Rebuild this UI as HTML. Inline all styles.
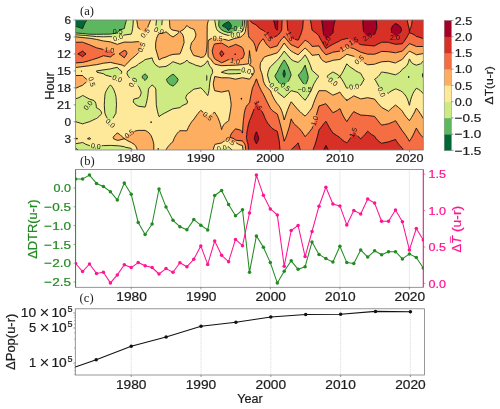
<!DOCTYPE html>
<html><head><meta charset="utf-8"><title>chart</title>
<style>html,body{margin:0;padding:0;background:#fff}body{width:500px;height:409px;overflow:hidden}svg{opacity:0.9999;will-change:transform}svg text{font-family:"Liberation Sans",sans-serif}svg text.sf{font-family:"Liberation Serif",serif}</style></head>
<body>
<svg width="500" height="409" viewBox="0 0 500 409" style="display:block">
<rect width="500" height="409" fill="#fff"/>
<clipPath id="ca"><rect x="75.6" y="20.0" width="347.7" height="130.0"/></clipPath>
<g clip-path="url(#ca)"><path d="M75.6,20.0 L82.6,20.0 L86.7,20.0 L85.9,21.4 L85.1,22.8 L84.4,24.2 L83.8,25.7 L83.2,27.1 L82.7,28.5 L82.6,28.6 L82.1,28.5 L78.4,27.1 L75.6,26.5 L75.6,25.7 L75.6,24.2 L75.6,22.8 L75.6,21.4 L75.6,20.0ZM226.1,22.8 L228.6,21.6 L229.8,22.8 L230.7,24.2 L231.4,25.7 L231.1,27.1 L230.3,28.5 L229.4,29.9 L228.6,30.4 L227.9,29.9 L226.6,28.5 L224.9,27.1 L222.2,25.7 L223.8,24.2 L226.1,22.8ZM283.9,70.9 L284.2,69.9 L284.5,70.9 L284.9,72.3 L285.3,73.7 L285.0,75.1 L284.6,76.5 L284.2,77.4 L283.7,76.5 L283.3,75.1 L283.0,73.7 L283.4,72.3 L283.9,70.9Z" fill="#006837" stroke="#006837" stroke-width="0.4" fill-rule="evenodd"/><path d="M86.7,20.0 L89.5,20.0 L96.5,20.0 L103.4,20.0 L110.4,20.0 L117.3,20.0 L124.3,20.0 L126.6,20.0 L126.1,21.4 L125.7,22.8 L125.3,24.2 L124.9,25.7 L124.6,27.1 L124.3,28.5 L124.3,28.5 L119.9,29.9 L118.3,31.3 L117.5,32.7 L117.3,32.9 L110.4,34.1 L110.4,34.1 L103.4,34.2 L96.5,34.3 L89.5,34.2 L89.0,34.1 L82.6,33.5 L75.6,32.9 L75.6,32.7 L75.6,31.3 L75.6,29.9 L75.6,28.5 L75.6,27.1 L75.6,26.5 L78.4,27.1 L82.1,28.5 L82.6,28.6 L82.7,28.5 L83.2,27.1 L83.8,25.7 L84.4,24.2 L85.1,22.8 L85.9,21.4 L86.7,20.0ZM219.0,20.0 L221.6,20.0 L228.6,20.0 L235.5,20.0 L242.5,20.0 L242.8,20.0 L242.8,21.4 L242.7,22.8 L242.6,24.2 L242.5,25.7 L242.5,25.7 L239.2,27.1 L237.5,28.5 L236.5,29.9 L235.8,31.3 L235.5,31.4 L228.6,32.6 L224.2,31.3 L221.6,29.9 L221.6,29.9 L220.4,28.5 L219.4,27.1 L218.7,25.7 L218.8,24.2 L218.8,22.8 L218.9,21.4 L219.0,20.0ZM228.6,21.6 L226.1,22.8 L223.8,24.2 L222.2,25.7 L224.9,27.1 L226.6,28.5 L227.9,29.9 L228.6,30.4 L229.4,29.9 L230.3,28.5 L231.1,27.1 L231.4,25.7 L230.7,24.2 L229.8,22.8 L228.6,21.6ZM283.5,61.0 L284.2,59.9 L285.0,61.0 L285.9,62.4 L286.7,63.8 L287.5,65.2 L288.2,66.6 L288.8,68.0 L289.3,69.5 L289.8,70.9 L290.3,72.3 L290.8,73.7 L291.1,75.1 L290.5,76.5 L290.0,77.9 L289.3,79.3 L288.6,80.8 L287.6,82.2 L286.5,83.6 L285.2,85.0 L284.2,86.0 L282.8,85.0 L280.7,83.6 L279.0,82.2 L277.5,80.8 L277.3,80.4 L276.6,79.3 L275.8,77.9 L275.0,76.5 L275.3,75.1 L276.2,73.7 L277.1,72.3 L277.3,72.1 L277.8,70.9 L278.5,69.5 L279.3,68.0 L280.0,66.6 L280.8,65.2 L281.7,63.8 L282.5,62.4 L283.5,61.0ZM284.2,69.9 L283.9,70.9 L283.4,72.3 L283.0,73.7 L283.3,75.1 L283.7,76.5 L284.2,77.4 L284.6,76.5 L285.0,75.1 L285.3,73.7 L284.9,72.3 L284.5,70.9 L284.2,69.9ZM305.1,65.2 L305.1,65.2 L305.1,65.2 L305.5,66.6 L305.9,68.0 L306.3,69.5 L306.7,70.9 L307.1,72.3 L307.5,73.7 L307.9,75.1 L308.2,76.5 L308.1,77.9 L307.9,79.3 L307.4,80.8 L306.8,82.2 L306.2,83.6 L305.5,85.0 L305.1,85.8 L304.5,85.0 L303.5,83.6 L302.5,82.2 L301.5,80.8 L300.6,79.3 L299.7,77.9 L298.8,76.5 L298.4,75.1 L299.7,73.7 L300.8,72.3 L301.9,70.9 L302.8,69.5 L303.6,68.0 L304.4,66.6 L305.1,65.2ZM143.5,75.1 L145.1,73.9 L146.5,75.1 L147.5,76.5 L147.2,77.9 L146.2,79.3 L145.1,80.5 L143.8,79.3 L142.5,77.9 L142.0,76.5 L143.5,75.1ZM171.5,75.1 L173.0,74.2 L174.2,75.1 L175.8,76.5 L177.0,77.9 L178.0,79.3 L177.7,80.8 L176.9,82.2 L175.9,83.6 L174.3,85.0 L173.0,86.1 L170.7,85.0 L168.7,83.6 L167.6,82.2 L166.9,80.8 L166.5,79.3 L167.9,77.9 L169.5,76.5 L171.5,75.1ZM75.6,148.6 L75.6,148.1 L76.5,148.6 L77.9,150.0 L75.6,150.0 L75.6,148.6Z" fill="#5db75f" stroke="#5db75f" stroke-width="0.4" fill-rule="evenodd"/><path d="M126.6,20.0 L131.2,20.0 L133.3,20.0 L133.2,21.4 L133.2,22.8 L133.1,24.2 L132.9,25.7 L132.8,27.1 L132.6,28.5 L132.4,29.9 L132.1,31.3 L131.7,32.7 L131.2,34.1 L131.2,34.1 L124.3,35.0 L123.3,35.5 L119.6,37.0 L117.3,37.7 L113.4,37.0 L110.4,36.6 L103.4,36.8 L96.5,36.6 L89.5,35.9 L85.5,35.5 L82.6,35.3 L75.6,34.8 L75.6,34.1 L75.6,32.9 L82.6,33.5 L89.0,34.1 L89.5,34.2 L96.5,34.3 L103.4,34.2 L110.4,34.1 L110.4,34.1 L117.3,32.9 L117.5,32.7 L118.3,31.3 L119.9,29.9 L124.3,28.5 L124.3,28.5 L124.6,27.1 L124.9,25.7 L125.3,24.2 L125.7,22.8 L126.1,21.4 L126.6,20.0ZM156.5,20.0 L159.0,20.0 L162.2,20.0 L162.1,21.4 L162.0,22.8 L161.8,24.2 L161.7,25.7 L161.6,27.1 L161.6,28.5 L160.2,29.9 L159.0,30.5 L157.4,29.9 L155.9,28.5 L155.9,27.1 L155.9,25.7 L156.1,24.2 L156.2,22.8 L156.3,21.4 L156.5,20.0ZM214.7,20.0 L214.7,20.0 L219.0,20.0 L218.9,21.4 L218.8,22.8 L218.8,24.2 L218.7,25.7 L219.4,27.1 L220.4,28.5 L221.6,29.9 L221.6,29.9 L224.2,31.3 L228.6,32.6 L235.5,31.4 L235.8,31.3 L236.5,29.9 L237.5,28.5 L239.2,27.1 L242.5,25.7 L242.5,25.7 L242.6,24.2 L242.7,22.8 L242.8,21.4 L242.8,20.0 L244.5,20.0 L244.4,21.4 L244.4,22.8 L244.4,24.2 L244.3,25.7 L244.0,27.1 L243.6,28.5 L243.1,29.9 L242.5,31.3 L242.5,31.3 L240.3,32.7 L237.1,34.1 L235.5,34.8 L228.6,35.5 L228.6,35.5 L228.6,35.5 L223.7,34.1 L221.6,33.2 L220.8,32.7 L218.4,31.3 L217.1,29.9 L216.5,28.5 L216.0,27.1 L215.6,25.7 L215.5,24.2 L215.2,22.8 L215.0,21.4 L214.7,20.0 L214.7,20.0ZM284.2,51.1 L284.2,51.1 L284.2,51.1 L285.4,52.5 L286.5,53.9 L287.7,55.3 L288.9,56.7 L290.2,58.2 L291.2,59.4 L291.5,59.6 L293.8,61.0 L298.1,62.4 L299.8,61.0 L301.2,59.6 L302.5,58.2 L303.7,56.7 L304.7,55.3 L305.1,54.9 L305.4,55.3 L306.3,56.7 L307.1,58.2 L307.8,59.6 L308.5,61.0 L309.1,62.4 L309.7,63.8 L310.3,65.2 L310.7,66.6 L311.2,68.0 L311.7,69.5 L312.0,70.4 L312.7,70.9 L314.2,72.3 L315.8,73.7 L317.4,75.1 L319.0,76.5 L319.0,76.5 L319.0,76.5 L317.4,77.9 L316.7,79.3 L315.7,80.8 L314.9,82.2 L314.1,83.6 L313.4,85.0 L312.8,86.4 L312.2,87.8 L312.0,88.3 L311.7,89.2 L311.0,90.7 L310.3,92.1 L309.5,93.5 L308.7,94.9 L307.9,96.3 L306.9,97.7 L305.9,99.1 L305.1,100.3 L303.9,99.1 L302.5,97.7 L301.2,96.3 L299.9,94.9 L298.8,93.5 L298.1,92.6 L296.7,92.1 L291.2,90.7 L289.7,92.1 L288.3,93.5 L286.9,94.9 L285.5,96.3 L284.2,97.7 L284.2,97.7 L284.2,97.7 L282.5,96.3 L280.8,94.9 L279.0,93.5 L277.3,92.1 L277.3,92.1 L276.5,90.7 L275.7,89.2 L274.6,87.8 L273.2,86.4 L271.3,85.0 L270.3,84.1 L270.0,83.6 L269.5,82.2 L269.0,80.8 L268.6,79.3 L268.2,77.9 L267.8,76.5 L267.5,75.1 L267.7,73.7 L268.0,72.3 L268.4,70.9 L268.9,69.5 L269.6,68.0 L270.3,66.9 L270.6,66.6 L272.1,65.2 L273.5,63.8 L274.9,62.4 L276.4,61.0 L277.3,60.3 L277.8,59.6 L279.0,58.2 L280.2,56.7 L281.3,55.3 L282.3,53.9 L283.3,52.5 L284.2,51.1ZM284.2,59.9 L283.5,61.0 L282.5,62.4 L281.7,63.8 L280.8,65.2 L280.0,66.6 L279.3,68.0 L278.5,69.5 L277.8,70.9 L277.3,72.1 L277.1,72.3 L276.2,73.7 L275.3,75.1 L275.0,76.5 L275.8,77.9 L276.6,79.3 L277.3,80.4 L277.5,80.8 L279.0,82.2 L280.7,83.6 L282.8,85.0 L284.2,86.0 L285.2,85.0 L286.5,83.6 L287.6,82.2 L288.6,80.8 L289.3,79.3 L290.0,77.9 L290.5,76.5 L291.1,75.1 L290.8,73.7 L290.3,72.3 L289.8,70.9 L289.3,69.5 L288.8,68.0 L288.2,66.6 L287.5,65.2 L286.7,63.8 L285.9,62.4 L285.0,61.0 L284.2,59.9ZM305.1,65.2 L305.1,65.2 L304.4,66.6 L303.6,68.0 L302.8,69.5 L301.9,70.9 L300.8,72.3 L299.7,73.7 L298.4,75.1 L298.8,76.5 L299.7,77.9 L300.6,79.3 L301.5,80.8 L302.5,82.2 L303.5,83.6 L304.5,85.0 L305.1,85.8 L305.5,85.0 L306.2,83.6 L306.8,82.2 L307.4,80.8 L307.9,79.3 L308.1,77.9 L308.2,76.5 L307.9,75.1 L307.5,73.7 L307.1,72.3 L306.7,70.9 L306.3,69.5 L305.9,68.0 L305.5,66.6 L305.1,65.2 L305.1,65.2ZM151.0,58.2 L152.1,57.8 L152.2,58.2 L152.6,59.6 L153.1,61.0 L153.8,62.4 L154.7,63.8 L156.1,65.2 L158.4,66.6 L159.0,67.2 L163.7,66.6 L166.0,66.4 L168.1,65.2 L170.2,63.8 L172.0,62.4 L173.0,61.7 L174.9,62.4 L179.0,63.8 L179.9,64.3 L181.0,63.8 L184.3,62.4 L186.1,61.0 L186.9,60.1 L187.5,61.0 L189.1,62.4 L192.6,63.8 L193.8,64.3 L195.6,65.2 L200.8,66.6 L203.5,65.2 L205.2,63.8 L206.4,62.4 L207.3,61.0 L207.7,60.7 L207.9,61.0 L208.3,62.4 L208.7,63.8 L209.4,65.2 L210.2,66.6 L211.4,68.0 L212.3,69.5 L212.5,70.9 L212.7,72.3 L212.2,73.7 L211.3,75.1 L210.8,76.5 L210.6,77.9 L210.3,79.3 L210.1,80.8 L209.8,82.2 L209.6,83.6 L209.5,85.0 L209.4,86.4 L209.3,87.8 L209.1,89.2 L208.9,90.7 L208.7,92.1 L208.4,93.5 L208.0,94.9 L207.7,95.6 L207.1,94.9 L206.1,93.5 L204.9,92.1 L203.7,90.7 L202.3,89.2 L200.8,87.8 L193.8,89.2 L193.8,89.2 L192.0,90.7 L190.2,92.1 L188.3,93.5 L186.9,94.7 L186.8,94.9 L186.2,96.3 L185.7,97.7 L186.2,99.1 L186.9,100.1 L187.0,100.5 L187.6,102.0 L187.0,103.4 L186.9,103.6 L184.0,104.8 L181.6,106.2 L179.9,107.6 L179.9,107.6 L173.0,108.8 L172.4,109.0 L169.7,110.4 L167.1,111.8 L166.0,112.4 L164.2,113.3 L161.7,114.7 L159.7,116.1 L159.0,116.6 L158.9,116.1 L158.4,114.7 L158.0,113.3 L157.6,111.8 L157.3,110.4 L157.0,109.0 L156.7,107.6 L156.5,106.2 L156.3,104.8 L156.2,103.4 L156.2,102.0 L156.1,100.5 L156.1,99.1 L156.1,97.7 L156.0,96.3 L156.0,94.9 L156.0,93.5 L155.9,92.1 L155.9,90.7 L155.8,89.2 L155.2,87.8 L153.9,86.4 L152.1,85.0 L150.7,86.4 L149.2,87.8 L148.5,89.2 L148.4,90.7 L148.3,92.1 L148.1,93.5 L147.9,94.9 L147.7,96.3 L147.5,97.7 L147.2,99.1 L146.9,100.5 L146.6,102.0 L146.3,103.4 L145.9,104.8 L145.5,106.2 L145.1,107.1 L138.2,106.2 L138.2,106.2 L136.0,104.8 L134.5,103.4 L133.3,102.0 L133.4,100.5 L133.8,99.1 L138.2,98.0 L138.9,97.7 L140.0,96.3 L140.6,94.9 L141.0,93.5 L141.2,92.1 L140.6,90.7 L140.0,89.2 L139.4,87.8 L138.5,86.4 L138.2,86.1 L137.0,85.0 L135.3,83.6 L133.7,82.2 L132.4,80.8 L131.2,79.3 L131.2,79.3 L129.6,77.9 L128.5,76.5 L127.6,75.1 L127.0,73.7 L127.3,72.3 L127.8,70.9 L130.0,69.5 L131.2,68.0 L131.2,68.0 L135.1,66.6 L137.2,65.2 L138.2,64.3 L138.7,63.8 L141.2,62.4 L143.3,61.0 L145.1,59.6 L145.1,59.6 L151.0,58.2ZM173.0,74.2 L171.5,75.1 L169.5,76.5 L167.9,77.9 L166.5,79.3 L166.9,80.8 L167.6,82.2 L168.7,83.6 L170.7,85.0 L173.0,86.1 L174.3,85.0 L175.9,83.6 L176.9,82.2 L177.7,80.8 L178.0,79.3 L177.0,77.9 L175.8,76.5 L174.2,75.1 L173.0,74.2ZM145.1,73.9 L143.5,75.1 L142.0,76.5 L142.5,77.9 L143.8,79.3 L145.1,80.5 L146.2,79.3 L147.2,77.9 L147.5,76.5 L146.5,75.1 L145.1,73.9ZM409.2,59.6 L409.4,58.9 L409.8,59.6 L410.5,61.0 L411.4,62.4 L413.1,63.8 L416.3,65.2 L420.6,63.8 L422.2,62.4 L423.1,61.0 L423.3,60.8 L423.3,61.0 L423.3,62.4 L423.3,63.8 L423.3,65.2 L423.3,66.6 L423.3,68.0 L423.3,69.5 L423.3,70.9 L423.3,72.3 L423.3,73.7 L423.3,75.1 L423.3,76.5 L423.3,77.9 L423.3,79.3 L423.3,80.8 L423.3,82.2 L423.3,83.6 L423.3,85.0 L423.3,86.4 L423.3,87.8 L423.3,89.2 L423.3,90.7 L423.3,92.1 L423.3,93.5 L423.3,93.9 L423.0,93.5 L421.9,92.1 L420.5,90.7 L418.3,89.2 L416.3,88.3 L415.6,89.2 L414.6,90.7 L413.7,92.1 L413.0,93.5 L412.4,94.9 L411.8,96.3 L411.3,97.7 L410.9,99.1 L410.5,100.5 L410.1,102.0 L409.8,103.4 L409.6,104.8 L409.4,105.3 L409.2,104.8 L408.8,103.4 L408.4,102.0 L407.9,100.5 L407.4,99.1 L406.7,97.7 L406.0,96.3 L405.0,94.9 L403.9,93.5 L402.4,92.1 L402.4,92.1 L400.4,90.7 L396.6,89.2 L395.5,88.9 L394.7,89.2 L391.8,90.7 L389.7,92.1 L388.5,93.1 L381.6,92.1 L381.6,92.1 L380.9,90.7 L380.3,89.2 L379.6,87.8 L378.9,86.4 L378.1,85.0 L377.3,83.6 L376.5,82.2 L375.8,80.8 L374.6,79.3 L374.6,79.3 L374.6,79.3 L376.6,77.9 L378.1,76.5 L379.4,75.1 L380.4,73.7 L381.3,72.3 L381.6,72.0 L383.7,72.3 L388.5,73.1 L390.8,73.7 L395.5,74.8 L397.5,73.7 L399.7,72.3 L401.1,70.9 L402.1,69.5 L402.4,69.2 L404.1,68.0 L405.9,66.6 L407.0,65.2 L407.8,63.8 L408.4,62.4 L408.8,61.0 L409.2,59.6ZM346.8,63.8 L346.8,63.8 L346.8,63.8 L348.1,65.2 L349.6,66.6 L351.7,68.0 L353.8,69.3 L354.0,69.5 L355.8,70.9 L358.4,72.3 L360.7,73.4 L361.0,73.7 L361.6,75.1 L362.4,76.5 L363.2,77.9 L364.2,79.3 L363.3,80.8 L362.5,82.2 L361.7,83.6 L361.0,85.0 L360.7,85.3 L355.8,86.4 L353.8,86.7 L348.4,87.8 L346.8,88.2 L346.5,87.8 L345.9,86.4 L345.1,85.0 L344.4,83.6 L343.6,82.2 L342.7,80.8 L341.8,79.3 L340.9,77.9 L339.9,76.5 L338.2,77.9 L336.3,79.3 L334.3,80.8 L332.9,81.6 L331.8,80.8 L330.0,79.3 L328.4,77.9 L326.9,76.5 L328.4,75.1 L330.3,73.7 L332.4,72.3 L332.9,72.0 L333.5,72.3 L336.2,73.7 L338.3,75.1 L339.9,76.5 L340.8,75.1 L341.7,73.7 L342.5,72.3 L343.3,70.9 L344.1,69.5 L344.8,68.0 L345.5,66.6 L346.2,65.2 L346.8,63.8ZM114.1,68.0 L117.3,67.4 L118.0,68.0 L119.3,69.5 L121.4,70.9 L121.7,72.3 L121.2,73.7 L120.4,75.1 L119.3,76.5 L117.7,77.9 L117.3,78.6 L115.6,77.9 L110.4,76.5 L110.4,76.5 L105.6,75.1 L103.4,73.7 L103.4,73.7 L97.1,72.3 L96.5,70.9 L96.5,70.9 L96.5,70.9 L103.4,69.8 L106.2,69.5 L110.4,68.9 L114.1,68.0ZM224.3,70.9 L228.6,69.8 L235.5,69.8 L242.5,69.8 L246.7,70.9 L249.4,72.3 L242.5,73.3 L235.5,73.7 L235.5,73.7 L228.6,73.9 L227.3,73.7 L221.6,72.3 L221.4,72.3 L221.6,72.2 L224.3,70.9ZM110.4,85.0 L110.4,85.0 L110.4,85.0 L111.9,86.4 L112.7,87.8 L113.5,89.2 L114.2,90.7 L114.7,92.1 L115.2,93.5 L115.6,94.9 L115.9,96.3 L116.1,97.7 L116.2,99.1 L116.3,100.5 L116.3,102.0 L116.4,103.4 L116.5,104.8 L116.4,106.2 L116.3,107.6 L116.2,109.0 L116.1,110.4 L116.0,111.8 L115.9,113.3 L115.0,114.7 L114.2,116.1 L113.4,117.5 L112.6,118.9 L111.9,120.3 L111.2,121.7 L110.5,123.2 L110.4,123.3 L110.2,123.2 L109.2,121.7 L108.3,120.3 L107.5,118.9 L106.8,117.5 L106.1,116.1 L105.4,114.7 L104.9,113.3 L104.7,111.8 L104.6,110.4 L104.5,109.0 L104.4,107.6 L104.3,106.2 L104.3,104.8 L104.3,103.4 L104.4,102.0 L104.5,100.5 L104.6,99.1 L104.7,97.7 L104.8,96.3 L105.0,94.9 L105.2,93.5 L105.7,92.1 L106.4,90.7 L107.2,89.2 L108.1,87.8 L109.1,86.4 L110.4,85.0ZM81.4,96.3 L82.6,95.5 L84.4,96.3 L86.9,97.7 L89.5,99.1 L89.5,99.1 L94.0,100.5 L95.2,102.0 L95.8,103.4 L96.1,104.8 L96.3,106.2 L96.4,107.6 L96.5,107.7 L98.8,109.0 L100.4,110.4 L101.2,111.8 L101.7,113.3 L100.7,114.7 L99.5,116.1 L97.8,117.5 L96.5,118.5 L95.4,118.9 L92.5,120.3 L89.5,121.7 L89.5,121.7 L84.6,123.2 L82.6,123.9 L80.5,123.2 L75.6,121.7 L75.6,121.7 L75.6,120.3 L75.6,118.9 L75.6,117.5 L75.6,116.1 L75.6,114.7 L75.6,113.3 L75.6,111.8 L75.6,110.4 L75.6,109.0 L75.6,107.6 L75.6,106.2 L75.6,104.8 L75.6,103.4 L75.6,102.0 L75.6,100.5 L75.6,99.1 L75.6,98.8 L78.8,97.7 L81.4,96.3ZM80.7,142.9 L82.6,142.5 L83.4,142.9 L85.8,144.3 L89.5,145.6 L92.6,145.8 L96.5,146.1 L100.8,145.8 L103.4,145.6 L110.4,145.4 L117.3,145.7 L118.7,145.8 L124.3,146.7 L125.1,147.2 L131.2,148.4 L131.4,148.6 L132.2,150.0 L131.2,150.0 L124.3,150.0 L117.3,150.0 L110.4,150.0 L103.4,150.0 L96.5,150.0 L89.5,150.0 L82.6,150.0 L77.9,150.0 L76.5,148.6 L75.6,148.1 L75.6,147.2 L75.6,145.8 L75.6,144.3 L75.6,143.7 L80.7,142.9ZM227.1,147.2 L228.6,146.9 L229.0,147.2 L230.3,148.6 L232.1,150.0 L228.6,150.0 L221.6,150.0 L220.9,150.0 L221.3,148.6 L221.6,148.2 L227.1,147.2Z" fill="#cdea83" stroke="#cdea83" stroke-width="0.4" fill-rule="evenodd"/><path d="M133.3,20.0 L136.8,20.0 L137.0,21.4 L137.2,22.8 L137.4,24.2 L137.6,25.7 L138.0,27.1 L138.2,27.9 L139.0,28.5 L141.0,29.9 L142.9,31.3 L144.8,32.7 L145.1,33.0 L145.4,32.7 L146.3,31.3 L147.0,29.9 L147.5,28.5 L148.0,27.1 L148.3,25.7 L148.9,24.2 L149.5,22.8 L150.1,21.4 L150.6,20.0 L152.1,20.0 L156.5,20.0 L156.3,21.4 L156.2,22.8 L156.1,24.2 L155.9,25.7 L155.9,27.1 L155.9,28.5 L157.4,29.9 L159.0,30.5 L160.2,29.9 L161.6,28.5 L161.6,27.1 L161.7,25.7 L161.8,24.2 L162.0,22.8 L162.1,21.4 L162.2,20.0 L166.0,20.0 L169.5,20.0 L169.5,21.4 L169.6,22.8 L169.6,24.2 L169.8,25.7 L170.0,27.1 L170.4,28.5 L172.0,29.9 L173.0,30.1 L179.0,31.3 L178.8,32.7 L177.1,34.1 L175.1,35.5 L173.0,37.0 L173.0,37.0 L173.0,37.0 L170.5,35.5 L168.6,34.1 L167.4,32.7 L166.0,31.8 L164.4,32.7 L159.0,33.8 L158.4,34.1 L157.7,35.5 L157.1,37.0 L156.6,38.4 L156.3,39.8 L155.9,41.2 L155.7,42.6 L155.7,44.0 L155.6,45.4 L155.6,46.8 L155.6,48.3 L156.0,49.7 L156.4,51.1 L156.8,52.5 L157.2,53.9 L157.6,55.3 L158.0,56.7 L158.4,58.2 L158.9,59.6 L159.0,59.8 L159.7,59.6 L162.2,58.2 L166.0,57.0 L166.5,56.7 L169.7,55.3 L173.0,54.4 L179.9,53.9 L179.9,53.9 L180.6,52.5 L181.2,51.1 L181.7,49.7 L182.2,48.3 L182.7,46.8 L183.2,45.4 L183.7,44.0 L184.1,42.6 L184.0,41.2 L183.8,39.8 L183.7,38.4 L183.4,37.0 L183.0,35.5 L182.3,34.1 L180.9,32.7 L180.3,31.3 L182.9,29.9 L184.6,28.5 L185.7,27.1 L186.6,25.7 L186.9,25.4 L187.2,25.7 L188.6,27.1 L191.5,28.5 L193.8,29.1 L194.3,29.9 L194.9,31.3 L195.4,32.7 L195.9,34.1 L195.8,35.5 L195.4,37.0 L194.8,38.4 L194.1,39.8 L193.8,40.2 L192.8,41.2 L191.7,42.6 L191.2,44.0 L190.8,45.4 L190.5,46.8 L190.3,48.3 L190.8,49.7 L191.4,51.1 L192.0,52.5 L192.8,53.9 L193.6,55.3 L193.8,55.5 L199.0,56.7 L200.8,57.6 L203.7,56.7 L205.1,55.3 L205.8,53.9 L206.2,52.5 L206.4,51.1 L206.6,49.7 L206.8,48.3 L206.9,46.8 L207.0,45.4 L207.0,44.0 L207.1,42.6 L207.1,41.2 L207.1,39.8 L207.1,38.4 L207.1,37.0 L207.1,35.5 L207.1,34.1 L207.1,32.7 L207.1,31.3 L207.1,29.9 L207.1,28.5 L207.2,27.1 L207.2,25.7 L207.4,24.2 L207.7,22.8 L207.7,22.8 L208.1,21.4 L208.4,20.0 L214.7,20.0 L214.7,20.0 L215.0,21.4 L215.2,22.8 L215.5,24.2 L215.6,25.7 L216.0,27.1 L216.5,28.5 L217.1,29.9 L218.4,31.3 L220.8,32.7 L221.6,33.2 L223.7,34.1 L228.6,35.5 L228.6,35.5 L228.6,35.5 L235.5,34.8 L237.1,34.1 L240.3,32.7 L242.5,31.3 L242.5,31.3 L243.1,29.9 L243.6,28.5 L244.0,27.1 L244.3,25.7 L244.4,24.2 L244.4,22.8 L244.4,21.4 L244.5,20.0 L246.1,20.0 L246.1,21.4 L246.1,22.8 L246.2,24.2 L246.2,25.7 L246.0,27.1 L245.8,28.5 L245.6,29.9 L245.4,31.3 L244.8,32.7 L244.0,34.1 L242.5,35.5 L242.5,35.5 L240.7,37.0 L235.5,38.2 L234.9,38.4 L230.7,39.8 L228.6,40.5 L226.1,39.8 L221.6,38.8 L217.1,38.4 L214.7,37.7 L211.5,38.4 L208.9,39.8 L208.4,41.2 L208.2,42.6 L208.1,44.0 L208.1,45.4 L208.0,46.8 L208.0,48.3 L208.0,49.7 L208.0,51.1 L208.0,52.5 L208.0,53.9 L208.0,55.3 L208.1,56.7 L209.8,58.2 L211.1,59.6 L212.1,61.0 L213.1,62.4 L214.4,63.8 L214.7,64.1 L219.1,65.2 L221.6,65.7 L228.6,65.4 L235.5,65.2 L235.5,65.2 L242.5,64.6 L248.4,63.8 L248.6,62.4 L248.7,61.0 L248.7,59.6 L248.9,58.2 L249.0,56.7 L249.2,55.3 L249.3,53.9 L249.3,52.5 L249.4,51.1 L249.4,50.6 L249.5,51.1 L249.6,52.5 L249.8,53.9 L249.9,55.3 L250.2,56.7 L250.4,58.2 L250.8,59.6 L250.8,61.0 L250.8,62.4 L250.1,63.8 L249.5,65.2 L252.4,66.6 L253.4,68.0 L253.9,69.5 L254.2,70.9 L254.1,72.3 L253.4,73.7 L252.6,75.1 L251.6,76.5 L250.5,77.9 L249.5,79.2 L243.4,77.9 L242.5,77.8 L241.6,77.9 L235.5,79.2 L229.6,77.9 L228.6,77.8 L221.6,77.8 L214.7,76.5 L214.4,77.9 L214.1,79.3 L213.8,80.8 L213.5,82.2 L213.3,83.6 L213.4,85.0 L213.6,86.4 L213.9,87.8 L214.3,89.2 L214.7,90.7 L214.7,90.7 L221.6,92.1 L228.2,90.7 L228.6,90.6 L228.7,90.7 L229.1,92.1 L229.5,93.5 L229.8,94.9 L230.1,96.3 L230.3,97.7 L230.5,99.1 L230.7,100.5 L230.9,102.0 L231.0,103.4 L231.2,104.8 L231.0,106.2 L230.9,107.6 L230.7,109.0 L230.5,110.4 L230.3,111.8 L230.0,113.3 L229.8,114.7 L229.5,116.1 L229.3,117.5 L229.0,118.9 L228.8,120.3 L228.6,120.8 L227.3,121.7 L225.2,123.2 L223.9,124.6 L223.0,126.0 L222.4,127.4 L221.9,128.8 L221.6,129.6 L221.4,128.8 L221.1,127.4 L220.7,126.0 L220.4,124.6 L219.9,123.2 L219.5,121.7 L219.0,120.3 L218.4,118.9 L217.8,117.5 L217.1,116.1 L216.2,114.7 L215.3,113.3 L214.7,112.3 L212.9,113.3 L210.2,114.7 L207.7,116.1 L207.7,116.1 L207.7,116.1 L206.0,114.7 L204.2,113.3 L202.5,111.8 L200.8,110.4 L199.4,111.8 L198.2,113.3 L197.1,114.7 L196.0,116.1 L195.1,117.5 L194.2,118.9 L193.8,119.3 L193.0,120.3 L191.8,121.7 L190.8,123.2 L189.9,124.6 L189.1,126.0 L188.4,127.4 L187.8,128.8 L187.2,130.2 L186.9,130.8 L179.9,130.7 L178.9,131.6 L177.5,133.0 L176.4,134.5 L175.5,135.9 L174.7,137.3 L174.1,138.7 L173.5,140.1 L173.0,141.5 L173.0,141.7 L171.5,142.9 L170.0,144.3 L168.8,145.8 L167.6,147.2 L166.7,148.6 L166.0,150.0 L166.0,150.0 L159.0,150.0 L153.8,150.0 L153.8,148.6 L153.8,147.2 L153.8,145.8 L153.8,144.3 L153.5,142.9 L153.2,141.5 L152.8,140.1 L152.3,138.7 L152.1,138.1 L151.8,137.3 L151.2,135.9 L150.3,134.5 L149.1,133.0 L147.4,131.6 L145.1,130.4 L138.2,130.4 L132.7,131.6 L131.2,132.1 L130.2,133.0 L128.4,134.5 L127.3,135.9 L125.7,137.3 L124.3,138.7 L126.6,140.1 L129.1,141.5 L131.2,142.4 L131.9,142.9 L134.2,144.3 L135.5,145.8 L136.3,147.2 L136.8,148.6 L137.2,150.0 L132.2,150.0 L131.4,148.6 L131.2,148.4 L125.1,147.2 L124.3,146.7 L118.7,145.8 L117.3,145.7 L110.4,145.4 L103.4,145.6 L100.8,145.8 L96.5,146.1 L92.6,145.8 L89.5,145.6 L85.8,144.3 L83.4,142.9 L82.6,142.5 L80.7,142.9 L75.6,143.7 L75.6,142.9 L75.6,141.5 L75.6,140.1 L75.6,138.9 L77.6,138.7 L75.6,138.0 L75.6,137.3 L75.6,135.9 L75.6,134.5 L75.6,133.0 L75.6,131.6 L75.6,130.2 L75.6,128.8 L75.6,127.4 L75.6,126.0 L75.6,124.6 L75.6,123.2 L75.6,121.7 L80.5,123.2 L82.6,123.9 L84.6,123.2 L89.5,121.7 L89.5,121.7 L92.5,120.3 L95.4,118.9 L96.5,118.5 L97.8,117.5 L99.5,116.1 L100.7,114.7 L101.7,113.3 L101.2,111.8 L100.4,110.4 L98.8,109.0 L96.5,107.7 L96.4,107.6 L96.3,106.2 L96.1,104.8 L95.8,103.4 L95.2,102.0 L94.0,100.5 L89.5,99.1 L89.5,99.1 L86.9,97.7 L84.4,96.3 L82.6,95.5 L81.4,96.3 L78.8,97.7 L75.6,98.8 L75.6,97.7 L75.6,96.3 L75.6,94.9 L75.6,93.5 L75.6,92.1 L75.6,90.7 L75.6,89.2 L75.6,88.3 L76.5,87.8 L79.7,86.4 L82.6,85.3 L82.9,85.0 L84.2,83.6 L86.3,82.2 L88.9,80.8 L86.8,79.3 L84.9,77.9 L83.4,76.5 L82.6,75.5 L75.6,75.5 L75.6,75.1 L75.6,73.7 L75.6,72.3 L75.6,70.9 L75.6,69.5 L75.6,68.0 L75.6,67.5 L82.3,66.6 L82.6,66.6 L89.5,65.7 L92.2,65.2 L96.5,64.7 L100.7,63.8 L103.4,63.2 L110.4,62.4 L110.4,62.4 L110.4,62.4 L116.6,63.8 L117.3,63.9 L122.5,65.2 L124.3,66.2 L125.4,65.2 L126.8,63.8 L128.1,62.4 L129.4,61.0 L130.7,59.6 L131.2,59.0 L132.3,58.2 L134.1,56.7 L135.7,55.3 L137.3,53.9 L138.2,53.0 L138.6,52.5 L139.5,51.1 L140.4,49.7 L141.2,48.3 L141.8,46.8 L141.6,45.4 L141.2,44.0 L140.9,42.6 L138.2,41.6 L131.2,42.2 L124.3,42.1 L122.8,42.6 L118.3,44.0 L117.3,44.4 L116.4,44.0 L112.4,42.6 L110.4,41.9 L105.1,41.2 L103.4,41.0 L98.3,39.8 L96.5,39.4 L90.6,38.4 L89.5,38.3 L82.6,37.5 L77.5,37.0 L75.6,36.8 L75.6,35.5 L75.6,34.8 L82.6,35.3 L85.5,35.5 L89.5,35.9 L96.5,36.6 L103.4,36.8 L110.4,36.6 L113.4,37.0 L117.3,37.7 L119.6,37.0 L123.3,35.5 L124.3,35.0 L131.2,34.1 L131.2,34.1 L131.7,32.7 L132.1,31.3 L132.4,29.9 L132.6,28.5 L132.8,27.1 L132.9,25.7 L133.1,24.2 L133.2,22.8 L133.2,21.4 L133.3,20.0ZM152.1,57.8 L151.0,58.2 L145.1,59.6 L145.1,59.6 L143.3,61.0 L141.2,62.4 L138.7,63.8 L138.2,64.3 L137.2,65.2 L135.1,66.6 L131.2,68.0 L131.2,68.0 L130.0,69.5 L127.8,70.9 L127.3,72.3 L127.0,73.7 L127.6,75.1 L128.5,76.5 L129.6,77.9 L131.2,79.3 L131.2,79.3 L132.4,80.8 L133.7,82.2 L135.3,83.6 L137.0,85.0 L138.2,86.1 L138.5,86.4 L139.4,87.8 L140.0,89.2 L140.6,90.7 L141.2,92.1 L141.0,93.5 L140.6,94.9 L140.0,96.3 L138.9,97.7 L138.2,98.0 L133.8,99.1 L133.4,100.5 L133.3,102.0 L134.5,103.4 L136.0,104.8 L138.2,106.2 L138.2,106.2 L145.1,107.1 L145.5,106.2 L145.9,104.8 L146.3,103.4 L146.6,102.0 L146.9,100.5 L147.2,99.1 L147.5,97.7 L147.7,96.3 L147.9,94.9 L148.1,93.5 L148.3,92.1 L148.4,90.7 L148.5,89.2 L149.2,87.8 L150.7,86.4 L152.1,85.0 L153.9,86.4 L155.2,87.8 L155.8,89.2 L155.9,90.7 L155.9,92.1 L156.0,93.5 L156.0,94.9 L156.0,96.3 L156.1,97.7 L156.1,99.1 L156.1,100.5 L156.2,102.0 L156.2,103.4 L156.3,104.8 L156.5,106.2 L156.7,107.6 L157.0,109.0 L157.3,110.4 L157.6,111.8 L158.0,113.3 L158.4,114.7 L158.9,116.1 L159.0,116.6 L159.7,116.1 L161.7,114.7 L164.2,113.3 L166.0,112.4 L167.1,111.8 L169.7,110.4 L172.4,109.0 L173.0,108.8 L179.9,107.6 L179.9,107.6 L181.6,106.2 L184.0,104.8 L186.9,103.6 L187.0,103.4 L187.6,102.0 L187.0,100.5 L186.9,100.1 L186.2,99.1 L185.7,97.7 L186.2,96.3 L186.8,94.9 L186.9,94.7 L188.3,93.5 L190.2,92.1 L192.0,90.7 L193.8,89.2 L193.8,89.2 L200.8,87.8 L202.3,89.2 L203.7,90.7 L204.9,92.1 L206.1,93.5 L207.1,94.9 L207.7,95.6 L208.0,94.9 L208.4,93.5 L208.7,92.1 L208.9,90.7 L209.1,89.2 L209.3,87.8 L209.4,86.4 L209.5,85.0 L209.6,83.6 L209.8,82.2 L210.1,80.8 L210.3,79.3 L210.6,77.9 L210.8,76.5 L211.3,75.1 L212.2,73.7 L212.7,72.3 L212.5,70.9 L212.3,69.5 L211.4,68.0 L210.2,66.6 L209.4,65.2 L208.7,63.8 L208.3,62.4 L207.9,61.0 L207.7,60.7 L207.3,61.0 L206.4,62.4 L205.2,63.8 L203.5,65.2 L200.8,66.6 L195.6,65.2 L193.8,64.3 L192.6,63.8 L189.1,62.4 L187.5,61.0 L186.9,60.1 L186.1,61.0 L184.3,62.4 L181.0,63.8 L179.9,64.3 L179.0,63.8 L174.9,62.4 L173.0,61.7 L172.0,62.4 L170.2,63.8 L168.1,65.2 L166.0,66.4 L163.7,66.6 L159.0,67.2 L158.4,66.6 L156.1,65.2 L154.7,63.8 L153.8,62.4 L153.1,61.0 L152.6,59.6 L152.2,58.2 L152.1,57.8ZM228.6,69.8 L224.3,70.9 L221.6,72.2 L221.4,72.3 L221.6,72.3 L227.3,73.7 L228.6,73.9 L235.5,73.7 L235.5,73.7 L242.5,73.3 L249.4,72.3 L246.7,70.9 L242.5,69.8 L235.5,69.8 L228.6,69.8ZM89.5,137.7 L87.5,138.7 L89.5,139.3 L90.7,138.7 L89.5,137.7ZM117.3,67.4 L114.1,68.0 L110.4,68.9 L106.2,69.5 L103.4,69.8 L96.5,70.9 L96.5,70.9 L96.5,70.9 L97.1,72.3 L103.4,73.7 L103.4,73.7 L105.6,75.1 L110.4,76.5 L110.4,76.5 L115.6,77.9 L117.3,78.6 L117.7,77.9 L119.3,76.5 L120.4,75.1 L121.2,73.7 L121.7,72.3 L121.4,70.9 L119.3,69.5 L118.0,68.0 L117.3,67.4ZM110.4,85.0 L110.4,85.0 L109.1,86.4 L108.1,87.8 L107.2,89.2 L106.4,90.7 L105.7,92.1 L105.2,93.5 L105.0,94.9 L104.8,96.3 L104.7,97.7 L104.6,99.1 L104.5,100.5 L104.4,102.0 L104.3,103.4 L104.3,104.8 L104.3,106.2 L104.4,107.6 L104.5,109.0 L104.6,110.4 L104.7,111.8 L104.9,113.3 L105.4,114.7 L106.1,116.1 L106.8,117.5 L107.5,118.9 L108.3,120.3 L109.2,121.7 L110.2,123.2 L110.4,123.3 L110.5,123.2 L111.2,121.7 L111.9,120.3 L112.6,118.9 L113.4,117.5 L114.2,116.1 L115.0,114.7 L115.9,113.3 L116.0,111.8 L116.1,110.4 L116.2,109.0 L116.3,107.6 L116.4,106.2 L116.5,104.8 L116.4,103.4 L116.3,102.0 L116.3,100.5 L116.2,99.1 L116.1,97.7 L115.9,96.3 L115.6,94.9 L115.2,93.5 L114.7,92.1 L114.2,90.7 L113.5,89.2 L112.7,87.8 L111.9,86.4 L110.4,85.0 L110.4,85.0ZM117.3,133.0 L115.5,134.5 L114.2,135.9 L113.2,137.3 L113.5,138.7 L116.7,140.1 L117.3,140.3 L119.3,140.1 L124.3,138.7 L122.8,137.3 L121.2,135.9 L119.8,134.5 L117.3,133.0ZM283.5,44.0 L284.2,43.0 L285.0,44.0 L286.0,45.4 L287.1,46.8 L288.3,48.3 L289.7,49.7 L291.2,51.1 L291.2,51.1 L293.5,52.5 L296.3,53.9 L298.1,54.8 L299.0,53.9 L300.4,52.5 L301.9,51.1 L303.3,49.7 L304.8,48.3 L305.1,48.0 L305.4,48.3 L307.0,49.7 L308.5,51.1 L309.8,52.5 L311.0,53.9 L312.0,55.3 L319.0,54.5 L319.4,55.3 L319.9,56.7 L320.7,58.2 L321.7,59.6 L323.3,61.0 L325.9,62.4 L331.0,61.0 L332.9,60.3 L338.6,59.6 L339.9,59.4 L341.6,58.2 L343.6,56.7 L345.4,55.3 L346.8,54.3 L350.4,55.3 L353.8,56.3 L354.4,56.7 L356.2,58.2 L358.7,59.6 L360.7,60.6 L361.5,61.0 L363.6,62.4 L366.0,63.8 L367.7,64.8 L374.6,64.2 L375.5,63.8 L379.8,62.4 L381.6,61.8 L388.5,61.3 L393.0,62.4 L395.5,63.0 L396.5,62.4 L399.1,61.0 L401.9,59.6 L402.4,59.3 L403.3,58.2 L404.4,56.7 L405.6,55.3 L406.8,53.9 L408.1,52.5 L409.4,51.1 L409.4,51.1 L409.4,51.1 L412.2,52.5 L414.9,53.9 L416.3,54.8 L421.3,53.9 L423.3,53.6 L423.3,53.9 L423.3,55.3 L423.3,56.7 L423.3,58.2 L423.3,59.6 L423.3,60.8 L423.1,61.0 L422.2,62.4 L420.6,63.8 L416.3,65.2 L413.1,63.8 L411.4,62.4 L410.5,61.0 L409.8,59.6 L409.4,58.9 L409.2,59.6 L408.8,61.0 L408.4,62.4 L407.8,63.8 L407.0,65.2 L405.9,66.6 L404.1,68.0 L402.4,69.2 L402.1,69.5 L401.1,70.9 L399.7,72.3 L397.5,73.7 L395.5,74.8 L390.8,73.7 L388.5,73.1 L383.7,72.3 L381.6,72.0 L381.3,72.3 L380.4,73.7 L379.4,75.1 L378.1,76.5 L376.6,77.9 L374.6,79.3 L374.6,79.3 L374.6,79.3 L375.8,80.8 L376.5,82.2 L377.3,83.6 L378.1,85.0 L378.9,86.4 L379.6,87.8 L380.3,89.2 L380.9,90.7 L381.6,92.1 L381.6,92.1 L388.5,93.1 L389.7,92.1 L391.8,90.7 L394.7,89.2 L395.5,88.9 L396.6,89.2 L400.4,90.7 L402.4,92.1 L402.4,92.1 L403.9,93.5 L405.0,94.9 L406.0,96.3 L406.7,97.7 L407.4,99.1 L407.9,100.5 L408.4,102.0 L408.8,103.4 L409.2,104.8 L409.4,105.3 L409.6,104.8 L409.8,103.4 L410.1,102.0 L410.5,100.5 L410.9,99.1 L411.3,97.7 L411.8,96.3 L412.4,94.9 L413.0,93.5 L413.7,92.1 L414.6,90.7 L415.6,89.2 L416.3,88.3 L418.3,89.2 L420.5,90.7 L421.9,92.1 L423.0,93.5 L423.3,93.9 L423.3,94.9 L423.3,96.3 L423.3,97.7 L423.3,99.1 L423.3,100.5 L423.3,102.0 L423.3,103.4 L423.3,104.8 L423.3,106.2 L423.3,107.6 L423.3,109.0 L423.3,110.4 L423.3,111.8 L423.3,113.3 L423.3,114.7 L423.3,116.1 L423.3,117.5 L423.3,118.6 L422.7,117.5 L421.9,116.1 L421.0,114.7 L420.1,113.3 L419.1,111.8 L418.1,110.4 L417.0,109.0 L416.3,108.2 L416.0,109.0 L415.3,110.4 L414.7,111.8 L414.0,113.3 L413.2,114.7 L412.4,116.1 L411.5,117.5 L410.6,118.9 L409.6,120.3 L409.4,120.7 L409.1,120.3 L407.8,118.9 L406.6,117.5 L405.5,116.1 L404.5,114.7 L403.6,113.3 L402.8,111.8 L402.4,111.3 L401.7,110.4 L400.2,109.0 L398.7,107.6 L397.0,106.2 L395.5,105.1 L394.1,106.2 L392.4,107.6 L390.8,109.0 L389.4,110.4 L388.5,111.2 L387.1,110.4 L384.6,109.0 L382.1,107.6 L381.6,107.4 L380.5,106.2 L379.2,104.8 L378.0,103.4 L376.8,102.0 L375.7,100.5 L374.6,99.1 L374.6,99.1 L367.7,97.7 L360.7,98.9 L357.9,97.7 L354.9,96.3 L353.8,95.9 L353.1,96.3 L351.2,97.7 L348.9,99.1 L346.8,100.4 L345.5,99.1 L344.1,97.7 L342.9,96.3 L341.8,94.9 L340.8,93.5 L339.9,92.1 L337.0,93.5 L333.6,94.9 L332.9,95.2 L332.5,94.9 L330.4,93.5 L328.2,92.1 L325.9,90.7 L319.0,90.7 L318.3,92.1 L317.6,93.5 L316.9,94.9 L316.3,96.3 L315.7,97.7 L315.1,99.1 L314.6,100.5 L314.0,102.0 L313.5,103.4 L313.0,104.8 L312.5,106.2 L312.0,107.6 L312.0,107.6 L311.1,109.0 L310.1,110.4 L309.0,111.8 L307.8,113.3 L306.5,114.7 L305.1,116.1 L305.1,116.1 L305.1,116.1 L303.4,114.7 L301.7,113.3 L300.2,111.8 L298.7,110.4 L298.1,109.9 L297.4,109.0 L296.2,107.6 L295.0,106.2 L293.8,104.8 L292.6,103.4 L291.4,102.0 L291.2,101.8 L291.0,102.0 L290.4,103.4 L289.7,104.8 L289.1,106.2 L288.5,107.6 L288.0,109.0 L287.4,110.4 L286.9,111.8 L286.4,113.3 L285.9,114.7 L285.4,116.1 L285.0,117.5 L284.6,118.9 L284.2,120.0 L284.0,118.9 L283.6,117.5 L283.3,116.1 L282.9,114.7 L282.5,113.3 L282.0,111.8 L281.5,110.4 L280.9,109.0 L280.1,107.6 L279.3,106.2 L278.2,104.8 L277.3,103.6 L277.0,103.4 L276.0,102.0 L275.1,100.5 L274.2,99.1 L273.5,97.7 L272.8,96.3 L272.1,94.9 L271.5,93.5 L271.0,92.1 L270.5,90.7 L270.3,90.4 L269.0,89.2 L267.3,87.8 L266.1,86.4 L265.1,85.0 L264.4,83.6 L263.9,82.2 L263.4,80.9 L263.3,80.8 L263.1,79.3 L262.9,77.9 L262.6,76.5 L262.2,75.1 L261.9,73.7 L261.4,72.3 L260.8,70.9 L260.4,69.5 L260.1,68.0 L260.1,66.6 L260.2,65.2 L260.4,63.8 L260.6,62.4 L261.8,61.0 L262.6,59.6 L263.2,58.2 L263.4,57.9 L265.1,56.7 L269.0,55.3 L270.3,55.1 L273.9,53.9 L277.3,52.8 L277.5,52.5 L278.7,51.1 L279.7,49.7 L280.8,48.3 L281.7,46.8 L282.6,45.4 L283.5,44.0ZM284.2,51.1 L284.2,51.1 L283.3,52.5 L282.3,53.9 L281.3,55.3 L280.2,56.7 L279.0,58.2 L277.8,59.6 L277.3,60.3 L276.4,61.0 L274.9,62.4 L273.5,63.8 L272.1,65.2 L270.6,66.6 L270.3,66.9 L269.6,68.0 L268.9,69.5 L268.4,70.9 L268.0,72.3 L267.7,73.7 L267.5,75.1 L267.8,76.5 L268.2,77.9 L268.6,79.3 L269.0,80.8 L269.5,82.2 L270.0,83.6 L270.3,84.1 L271.3,85.0 L273.2,86.4 L274.6,87.8 L275.7,89.2 L276.5,90.7 L277.3,92.1 L277.3,92.1 L279.0,93.5 L280.8,94.9 L282.5,96.3 L284.2,97.7 L284.2,97.7 L284.2,97.7 L285.5,96.3 L286.9,94.9 L288.3,93.5 L289.7,92.1 L291.2,90.7 L296.7,92.1 L298.1,92.6 L298.8,93.5 L299.9,94.9 L301.2,96.3 L302.5,97.7 L303.9,99.1 L305.1,100.3 L305.9,99.1 L306.9,97.7 L307.9,96.3 L308.7,94.9 L309.5,93.5 L310.3,92.1 L311.0,90.7 L311.7,89.2 L312.0,88.3 L312.2,87.8 L312.8,86.4 L313.4,85.0 L314.1,83.6 L314.9,82.2 L315.7,80.8 L316.7,79.3 L317.4,77.9 L319.0,76.5 L319.0,76.5 L319.0,76.5 L317.4,75.1 L315.8,73.7 L314.2,72.3 L312.7,70.9 L312.0,70.4 L311.7,69.5 L311.2,68.0 L310.7,66.6 L310.3,65.2 L309.7,63.8 L309.1,62.4 L308.5,61.0 L307.8,59.6 L307.1,58.2 L306.3,56.7 L305.4,55.3 L305.1,54.9 L304.7,55.3 L303.7,56.7 L302.5,58.2 L301.2,59.6 L299.8,61.0 L298.1,62.4 L293.8,61.0 L291.5,59.6 L291.2,59.4 L290.2,58.2 L288.9,56.7 L287.7,55.3 L286.5,53.9 L285.4,52.5 L284.2,51.1 L284.2,51.1ZM346.8,63.8 L346.8,63.8 L346.2,65.2 L345.5,66.6 L344.8,68.0 L344.1,69.5 L343.3,70.9 L342.5,72.3 L341.7,73.7 L340.8,75.1 L339.9,76.5 L338.3,75.1 L336.2,73.7 L333.5,72.3 L332.9,72.0 L332.4,72.3 L330.3,73.7 L328.4,75.1 L326.9,76.5 L328.4,77.9 L330.0,79.3 L331.8,80.8 L332.9,81.6 L334.3,80.8 L336.3,79.3 L338.2,77.9 L339.9,76.5 L340.9,77.9 L341.8,79.3 L342.7,80.8 L343.6,82.2 L344.4,83.6 L345.1,85.0 L345.9,86.4 L346.5,87.8 L346.8,88.2 L348.4,87.8 L353.8,86.7 L355.8,86.4 L360.7,85.3 L361.0,85.0 L361.7,83.6 L362.5,82.2 L363.3,80.8 L364.2,79.3 L363.2,77.9 L362.4,76.5 L361.6,75.1 L361.0,73.7 L360.7,73.4 L358.4,72.3 L355.8,70.9 L354.0,69.5 L353.8,69.3 L351.7,68.0 L349.6,66.6 L348.1,65.2 L346.8,63.8 L346.8,63.8ZM227.2,140.1 L228.6,140.0 L228.9,140.1 L231.2,141.5 L235.5,142.8 L236.2,142.9 L238.6,144.3 L242.5,145.7 L242.5,145.8 L242.7,147.2 L242.9,148.6 L243.0,150.0 L242.5,150.0 L235.5,150.0 L232.1,150.0 L230.3,148.6 L229.0,147.2 L228.6,146.9 L227.1,147.2 L221.6,148.2 L221.3,148.6 L220.9,150.0 L214.7,150.0 L213.1,150.0 L213.5,148.6 L213.9,147.2 L214.4,145.8 L214.7,144.9 L215.1,144.3 L221.6,142.9 L221.6,142.9 L223.4,141.5 L227.2,140.1Z" fill="#fee99a" stroke="#fee99a" stroke-width="0.4" fill-rule="evenodd"/><path d="M136.8,20.0 L138.2,20.0 L145.1,20.0 L150.6,20.0 L150.1,21.4 L149.5,22.8 L148.9,24.2 L148.3,25.7 L148.0,27.1 L147.5,28.5 L147.0,29.9 L146.3,31.3 L145.4,32.7 L145.1,33.0 L144.8,32.7 L142.9,31.3 L141.0,29.9 L139.0,28.5 L138.2,27.9 L138.0,27.1 L137.6,25.7 L137.4,24.2 L137.2,22.8 L137.0,21.4 L136.8,20.0ZM169.5,20.0 L173.0,20.0 L179.9,20.0 L186.9,20.0 L193.8,20.0 L200.8,20.0 L207.7,20.0 L208.4,20.0 L208.1,21.4 L207.7,22.8 L207.7,22.8 L207.4,24.2 L207.2,25.7 L207.2,27.1 L207.1,28.5 L207.1,29.9 L207.1,31.3 L207.1,32.7 L207.1,34.1 L207.1,35.5 L207.1,37.0 L207.1,38.4 L207.1,39.8 L207.1,41.2 L207.1,42.6 L207.0,44.0 L207.0,45.4 L206.9,46.8 L206.8,48.3 L206.6,49.7 L206.4,51.1 L206.2,52.5 L205.8,53.9 L205.1,55.3 L203.7,56.7 L200.8,57.6 L199.0,56.7 L193.8,55.5 L193.6,55.3 L192.8,53.9 L192.0,52.5 L191.4,51.1 L190.8,49.7 L190.3,48.3 L190.5,46.8 L190.8,45.4 L191.2,44.0 L191.7,42.6 L192.8,41.2 L193.8,40.2 L194.1,39.8 L194.8,38.4 L195.4,37.0 L195.8,35.5 L195.9,34.1 L195.4,32.7 L194.9,31.3 L194.3,29.9 L193.8,29.1 L191.5,28.5 L188.6,27.1 L187.2,25.7 L186.9,25.4 L186.6,25.7 L185.7,27.1 L184.6,28.5 L182.9,29.9 L180.3,31.3 L180.9,32.7 L182.3,34.1 L183.0,35.5 L183.4,37.0 L183.7,38.4 L183.8,39.8 L184.0,41.2 L184.1,42.6 L183.7,44.0 L183.2,45.4 L182.7,46.8 L182.2,48.3 L181.7,49.7 L181.2,51.1 L180.6,52.5 L179.9,53.9 L179.9,53.9 L173.0,54.4 L169.7,55.3 L166.5,56.7 L166.0,57.0 L162.2,58.2 L159.7,59.6 L159.0,59.8 L158.9,59.6 L158.4,58.2 L158.0,56.7 L157.6,55.3 L157.2,53.9 L156.8,52.5 L156.4,51.1 L156.0,49.7 L155.6,48.3 L155.6,46.8 L155.6,45.4 L155.7,44.0 L155.7,42.6 L155.9,41.2 L156.3,39.8 L156.6,38.4 L157.1,37.0 L157.7,35.5 L158.4,34.1 L159.0,33.8 L164.4,32.7 L166.0,31.8 L167.4,32.7 L168.6,34.1 L170.5,35.5 L173.0,37.0 L173.0,37.0 L173.0,37.0 L175.1,35.5 L177.1,34.1 L178.8,32.7 L179.0,31.3 L173.0,30.1 L172.0,29.9 L170.4,28.5 L170.0,27.1 L169.8,25.7 L169.6,24.2 L169.6,22.8 L169.5,21.4 L169.5,20.0ZM246.1,20.0 L247.8,20.0 L247.8,21.4 L247.9,22.8 L247.9,24.2 L248.0,25.7 L248.0,27.1 L248.1,28.5 L248.1,29.9 L248.2,31.3 L248.3,32.7 L248.3,34.1 L248.5,35.5 L248.9,37.0 L249.5,38.0 L249.9,38.4 L251.6,39.8 L252.8,41.2 L253.7,42.6 L254.4,44.0 L254.9,45.4 L255.4,46.8 L255.7,48.3 L256.0,49.7 L256.3,51.1 L256.4,51.4 L256.5,51.1 L256.9,49.7 L257.3,48.3 L257.8,46.8 L258.4,45.4 L259.1,44.0 L259.9,42.6 L260.9,41.2 L262.1,39.8 L263.4,38.8 L263.8,39.8 L264.5,41.2 L265.4,42.6 L266.3,44.0 L267.5,45.4 L268.9,46.8 L270.3,47.9 L273.8,46.8 L277.3,45.9 L277.5,45.4 L278.3,44.0 L279.0,42.6 L280.0,41.2 L281.0,39.8 L282.3,38.4 L283.9,37.0 L284.2,36.3 L284.5,37.0 L285.7,38.4 L286.9,39.8 L288.1,41.2 L289.3,42.6 L290.4,44.0 L291.2,44.9 L292.7,45.4 L295.9,46.8 L298.1,48.0 L299.2,46.8 L300.4,45.4 L301.7,44.0 L303.0,42.6 L304.3,41.2 L305.1,40.1 L306.8,41.2 L308.9,42.6 L310.3,44.0 L311.4,45.4 L312.0,46.4 L319.0,45.9 L319.5,46.8 L320.5,48.3 L321.5,49.7 L322.6,51.1 L323.8,52.5 L325.1,53.9 L325.9,54.8 L328.6,53.9 L332.3,52.5 L332.9,52.2 L339.9,51.1 L339.9,51.1 L341.6,49.7 L343.7,48.3 L346.2,46.8 L346.8,46.6 L347.6,46.8 L352.6,48.3 L353.8,48.6 L355.8,49.7 L358.5,51.1 L360.7,52.2 L361.8,52.5 L366.7,53.9 L367.7,54.2 L374.6,54.2 L375.5,53.9 L379.2,52.5 L381.6,51.4 L388.5,51.7 L393.6,52.5 L395.5,52.8 L396.6,52.5 L402.4,51.1 L402.4,51.1 L403.8,49.7 L405.1,48.3 L406.4,46.8 L407.8,45.4 L409.1,44.0 L409.4,43.6 L410.3,44.0 L414.0,45.4 L416.3,46.5 L423.3,46.5 L423.3,46.8 L423.3,48.3 L423.3,49.7 L423.3,51.1 L423.3,52.5 L423.3,53.6 L421.3,53.9 L416.3,54.8 L414.9,53.9 L412.2,52.5 L409.4,51.1 L409.4,51.1 L409.4,51.1 L408.1,52.5 L406.8,53.9 L405.6,55.3 L404.4,56.7 L403.3,58.2 L402.4,59.3 L401.9,59.6 L399.1,61.0 L396.5,62.4 L395.5,63.0 L393.0,62.4 L388.5,61.3 L381.6,61.8 L379.8,62.4 L375.5,63.8 L374.6,64.2 L367.7,64.8 L366.0,63.8 L363.6,62.4 L361.5,61.0 L360.7,60.6 L358.7,59.6 L356.2,58.2 L354.4,56.7 L353.8,56.3 L350.4,55.3 L346.8,54.3 L345.4,55.3 L343.6,56.7 L341.6,58.2 L339.9,59.4 L338.6,59.6 L332.9,60.3 L331.0,61.0 L325.9,62.4 L323.3,61.0 L321.7,59.6 L320.7,58.2 L319.9,56.7 L319.4,55.3 L319.0,54.5 L312.0,55.3 L311.0,53.9 L309.8,52.5 L308.5,51.1 L307.0,49.7 L305.4,48.3 L305.1,48.0 L304.8,48.3 L303.3,49.7 L301.9,51.1 L300.4,52.5 L299.0,53.9 L298.1,54.8 L296.3,53.9 L293.5,52.5 L291.2,51.1 L291.2,51.1 L289.7,49.7 L288.3,48.3 L287.1,46.8 L286.0,45.4 L285.0,44.0 L284.2,43.0 L283.5,44.0 L282.6,45.4 L281.7,46.8 L280.8,48.3 L279.7,49.7 L278.7,51.1 L277.5,52.5 L277.3,52.8 L273.9,53.9 L270.3,55.1 L269.0,55.3 L265.1,56.7 L263.4,57.9 L263.2,58.2 L262.6,59.6 L261.8,61.0 L260.6,62.4 L260.4,63.8 L260.2,65.2 L260.1,66.6 L260.1,68.0 L260.4,69.5 L260.8,70.9 L261.4,72.3 L261.9,73.7 L262.2,75.1 L262.6,76.5 L262.9,77.9 L263.1,79.3 L263.3,80.8 L263.4,80.9 L263.9,82.2 L264.4,83.6 L265.1,85.0 L266.1,86.4 L267.3,87.8 L269.0,89.2 L270.3,90.4 L270.5,90.7 L271.0,92.1 L271.5,93.5 L272.1,94.9 L272.8,96.3 L273.5,97.7 L274.2,99.1 L275.1,100.5 L276.0,102.0 L277.0,103.4 L277.3,103.6 L278.2,104.8 L279.3,106.2 L280.1,107.6 L280.9,109.0 L281.5,110.4 L282.0,111.8 L282.5,113.3 L282.9,114.7 L283.3,116.1 L283.6,117.5 L284.0,118.9 L284.2,120.0 L284.6,118.9 L285.0,117.5 L285.4,116.1 L285.9,114.7 L286.4,113.3 L286.9,111.8 L287.4,110.4 L288.0,109.0 L288.5,107.6 L289.1,106.2 L289.7,104.8 L290.4,103.4 L291.0,102.0 L291.2,101.8 L291.4,102.0 L292.6,103.4 L293.8,104.8 L295.0,106.2 L296.2,107.6 L297.4,109.0 L298.1,109.9 L298.7,110.4 L300.2,111.8 L301.7,113.3 L303.4,114.7 L305.1,116.1 L305.1,116.1 L305.1,116.1 L306.5,114.7 L307.8,113.3 L309.0,111.8 L310.1,110.4 L311.1,109.0 L312.0,107.6 L312.0,107.6 L312.5,106.2 L313.0,104.8 L313.5,103.4 L314.0,102.0 L314.6,100.5 L315.1,99.1 L315.7,97.7 L316.3,96.3 L316.9,94.9 L317.6,93.5 L318.3,92.1 L319.0,90.7 L325.9,90.7 L328.2,92.1 L330.4,93.5 L332.5,94.9 L332.9,95.2 L333.6,94.9 L337.0,93.5 L339.9,92.1 L340.8,93.5 L341.8,94.9 L342.9,96.3 L344.1,97.7 L345.5,99.1 L346.8,100.4 L348.9,99.1 L351.2,97.7 L353.1,96.3 L353.8,95.9 L354.9,96.3 L357.9,97.7 L360.7,98.9 L367.7,97.7 L374.6,99.1 L374.6,99.1 L375.7,100.5 L376.8,102.0 L378.0,103.4 L379.2,104.8 L380.5,106.2 L381.6,107.4 L382.1,107.6 L384.6,109.0 L387.1,110.4 L388.5,111.2 L389.4,110.4 L390.8,109.0 L392.4,107.6 L394.1,106.2 L395.5,105.1 L397.0,106.2 L398.7,107.6 L400.2,109.0 L401.7,110.4 L402.4,111.3 L402.8,111.8 L403.6,113.3 L404.5,114.7 L405.5,116.1 L406.6,117.5 L407.8,118.9 L409.1,120.3 L409.4,120.7 L409.6,120.3 L410.6,118.9 L411.5,117.5 L412.4,116.1 L413.2,114.7 L414.0,113.3 L414.7,111.8 L415.3,110.4 L416.0,109.0 L416.3,108.2 L417.0,109.0 L418.1,110.4 L419.1,111.8 L420.1,113.3 L421.0,114.7 L421.9,116.1 L422.7,117.5 L423.3,118.6 L423.3,118.9 L423.3,120.3 L423.3,121.7 L423.3,123.2 L423.3,124.6 L423.3,126.0 L423.3,127.4 L423.3,128.8 L423.3,130.2 L423.3,131.6 L423.3,133.0 L423.3,134.5 L423.3,135.9 L423.3,137.3 L423.3,137.6 L423.0,137.3 L421.6,135.9 L420.4,134.5 L419.4,133.0 L418.4,131.6 L417.6,130.2 L416.8,128.8 L416.3,128.1 L416.0,128.8 L415.4,130.2 L414.8,131.6 L414.1,133.0 L413.4,134.5 L412.7,135.9 L411.9,137.3 L411.1,138.7 L410.2,140.1 L409.4,141.3 L408.7,140.1 L407.9,138.7 L407.0,137.3 L406.1,135.9 L405.1,134.5 L404.0,133.0 L402.9,131.6 L402.4,131.0 L401.9,130.2 L401.0,128.8 L400.1,127.4 L399.2,126.0 L398.2,124.6 L397.3,123.2 L396.3,121.7 L395.5,120.7 L393.6,121.7 L390.3,123.2 L388.5,123.8 L384.4,124.6 L381.6,125.1 L381.1,124.6 L379.9,123.2 L378.7,121.7 L377.6,120.3 L376.5,118.9 L375.4,117.5 L374.6,116.4 L372.5,116.1 L367.7,115.5 L360.7,115.1 L360.0,114.7 L356.9,113.3 L354.2,111.8 L353.8,111.6 L353.5,111.8 L352.5,113.3 L351.5,114.7 L350.5,116.1 L349.5,117.5 L348.6,118.9 L347.7,120.3 L346.8,121.7 L346.8,121.7 L346.8,121.7 L345.8,120.3 L344.9,118.9 L344.1,117.5 L343.3,116.1 L342.6,114.7 L341.9,113.3 L341.3,111.8 L340.6,110.4 L340.1,109.0 L339.9,108.6 L339.3,109.0 L337.5,110.4 L334.9,111.8 L332.9,112.7 L332.2,111.8 L331.2,110.4 L330.1,109.0 L329.0,107.6 L327.9,106.2 L326.8,104.8 L325.9,103.7 L322.7,104.8 L319.0,106.0 L318.9,106.2 L318.5,107.6 L318.1,109.0 L317.7,110.4 L317.3,111.8 L316.9,113.3 L316.5,114.7 L316.1,116.1 L315.7,117.5 L315.2,118.9 L314.8,120.3 L314.3,121.7 L313.9,123.2 L313.4,124.6 L312.9,126.0 L312.4,127.4 L312.0,128.6 L311.8,128.8 L310.8,130.2 L309.6,131.6 L308.5,133.0 L307.2,134.5 L305.9,135.9 L305.1,136.7 L304.6,135.9 L303.7,134.5 L302.8,133.0 L301.8,131.6 L300.7,130.2 L299.5,128.8 L298.1,127.4 L298.1,127.4 L296.3,126.0 L294.9,124.6 L293.7,123.2 L292.7,121.7 L291.9,120.3 L291.2,118.9 L290.9,120.3 L290.5,121.7 L290.2,123.2 L289.8,124.6 L289.5,126.0 L289.1,127.4 L288.7,128.8 L288.3,130.2 L287.8,131.6 L287.4,133.0 L286.9,134.5 L286.4,135.9 L285.9,137.3 L285.3,138.7 L284.7,140.1 L284.2,141.2 L284.0,140.1 L283.6,138.7 L283.3,137.3 L283.0,135.9 L282.7,134.5 L282.4,133.0 L282.1,131.6 L281.7,130.2 L281.4,128.8 L281.0,127.4 L280.7,126.0 L280.3,124.6 L279.9,123.2 L279.6,121.7 L279.2,120.3 L278.8,118.9 L278.4,117.5 L278.0,116.1 L277.5,114.7 L277.3,114.0 L276.1,113.3 L273.9,111.8 L272.2,110.4 L270.9,109.0 L270.3,108.2 L270.0,107.6 L269.3,106.2 L268.5,104.8 L267.8,103.4 L267.1,102.0 L266.4,100.5 L265.7,99.1 L265.0,97.7 L264.4,96.3 L263.7,94.9 L263.4,94.2 L263.0,93.5 L262.1,92.1 L261.3,90.7 L260.6,89.2 L260.0,87.8 L259.3,86.4 L258.7,85.0 L258.1,83.6 L257.6,82.2 L257.1,80.8 L256.6,79.3 L256.4,78.9 L256.2,79.3 L255.6,80.8 L255.1,82.2 L254.5,83.6 L253.9,85.0 L253.2,86.4 L252.5,87.8 L252.2,89.2 L251.9,90.7 L251.6,92.1 L251.3,93.5 L251.0,94.9 L250.7,96.3 L250.4,97.7 L250.1,99.1 L249.9,100.5 L249.6,102.0 L249.4,102.9 L249.0,103.4 L247.5,104.8 L246.5,106.2 L245.8,107.6 L245.3,109.0 L244.9,110.4 L244.6,111.8 L244.3,113.3 L244.1,114.7 L244.0,116.1 L243.8,117.5 L243.6,118.9 L243.4,120.3 L243.3,121.7 L243.2,123.2 L243.0,124.6 L242.9,126.0 L242.8,127.4 L242.7,128.8 L242.7,130.2 L242.6,131.6 L242.5,133.0 L242.5,133.1 L242.4,133.0 L241.8,131.6 L240.6,130.2 L235.5,128.8 L234.2,130.2 L233.0,131.6 L231.9,133.0 L230.9,134.5 L230.5,135.9 L230.0,137.3 L234.2,138.7 L235.4,140.1 L235.5,140.2 L242.5,140.9 L242.8,141.5 L244.0,142.9 L244.8,144.3 L245.4,145.8 L245.5,147.2 L245.6,148.6 L245.7,150.0 L243.0,150.0 L242.9,148.6 L242.7,147.2 L242.5,145.8 L242.5,145.7 L238.6,144.3 L236.2,142.9 L235.5,142.8 L231.2,141.5 L228.9,140.1 L228.6,140.0 L227.2,140.1 L223.4,141.5 L221.6,142.9 L221.6,142.9 L215.1,144.3 L214.7,144.9 L214.4,145.8 L213.9,147.2 L213.5,148.6 L213.1,150.0 L207.7,150.0 L200.8,150.0 L193.8,150.0 L186.9,150.0 L179.9,150.0 L173.0,150.0 L166.0,150.0 L166.7,148.6 L167.6,147.2 L168.8,145.8 L170.0,144.3 L171.5,142.9 L173.0,141.7 L173.0,141.5 L173.5,140.1 L174.1,138.7 L174.7,137.3 L175.5,135.9 L176.4,134.5 L177.5,133.0 L178.9,131.6 L179.9,130.7 L186.9,130.8 L187.2,130.2 L187.8,128.8 L188.4,127.4 L189.1,126.0 L189.9,124.6 L190.8,123.2 L191.8,121.7 L193.0,120.3 L193.8,119.3 L194.2,118.9 L195.1,117.5 L196.0,116.1 L197.1,114.7 L198.2,113.3 L199.4,111.8 L200.8,110.4 L202.5,111.8 L204.2,113.3 L206.0,114.7 L207.7,116.1 L207.7,116.1 L207.7,116.1 L210.2,114.7 L212.9,113.3 L214.7,112.3 L215.3,113.3 L216.2,114.7 L217.1,116.1 L217.8,117.5 L218.4,118.9 L219.0,120.3 L219.5,121.7 L219.9,123.2 L220.4,124.6 L220.7,126.0 L221.1,127.4 L221.4,128.8 L221.6,129.6 L221.9,128.8 L222.4,127.4 L223.0,126.0 L223.9,124.6 L225.2,123.2 L227.3,121.7 L228.6,120.8 L228.8,120.3 L229.0,118.9 L229.3,117.5 L229.5,116.1 L229.8,114.7 L230.0,113.3 L230.3,111.8 L230.5,110.4 L230.7,109.0 L230.9,107.6 L231.0,106.2 L231.2,104.8 L231.0,103.4 L230.9,102.0 L230.7,100.5 L230.5,99.1 L230.3,97.7 L230.1,96.3 L229.8,94.9 L229.5,93.5 L229.1,92.1 L228.7,90.7 L228.6,90.6 L228.2,90.7 L221.6,92.1 L214.7,90.7 L214.7,90.7 L214.3,89.2 L213.9,87.8 L213.6,86.4 L213.4,85.0 L213.3,83.6 L213.5,82.2 L213.8,80.8 L214.1,79.3 L214.4,77.9 L214.7,76.5 L221.6,77.8 L228.6,77.8 L229.6,77.9 L235.5,79.2 L241.6,77.9 L242.5,77.8 L243.4,77.9 L249.5,79.2 L250.5,77.9 L251.6,76.5 L252.6,75.1 L253.4,73.7 L254.1,72.3 L254.2,70.9 L253.9,69.5 L253.4,68.0 L252.4,66.6 L249.5,65.2 L250.1,63.8 L250.8,62.4 L250.8,61.0 L250.8,59.6 L250.4,58.2 L250.2,56.7 L249.9,55.3 L249.8,53.9 L249.6,52.5 L249.5,51.1 L249.4,50.6 L249.4,51.1 L249.3,52.5 L249.3,53.9 L249.2,55.3 L249.0,56.7 L248.9,58.2 L248.7,59.6 L248.7,61.0 L248.6,62.4 L248.4,63.8 L242.5,64.6 L235.5,65.2 L235.5,65.2 L228.6,65.4 L221.6,65.7 L219.1,65.2 L214.7,64.1 L214.4,63.8 L213.1,62.4 L212.1,61.0 L211.1,59.6 L209.8,58.2 L208.1,56.7 L208.0,55.3 L208.0,53.9 L208.0,52.5 L208.0,51.1 L208.0,49.7 L208.0,48.3 L208.0,46.8 L208.1,45.4 L208.1,44.0 L208.2,42.6 L208.4,41.2 L208.9,39.8 L211.5,38.4 L214.7,37.7 L217.1,38.4 L221.6,38.8 L226.1,39.8 L228.6,40.5 L230.7,39.8 L234.9,38.4 L235.5,38.2 L240.7,37.0 L242.5,35.5 L242.5,35.5 L244.0,34.1 L244.8,32.7 L245.4,31.3 L245.6,29.9 L245.8,28.5 L246.0,27.1 L246.2,25.7 L246.2,24.2 L246.1,22.8 L246.1,21.4 L246.1,20.0ZM214.7,43.9 L214.5,44.0 L213.9,45.4 L213.3,46.8 L212.9,48.3 L212.5,49.7 L212.2,51.1 L212.5,52.5 L212.8,53.9 L213.2,55.3 L213.7,56.7 L214.4,58.2 L214.7,58.7 L215.9,59.6 L218.5,61.0 L220.8,62.4 L221.6,62.7 L222.7,62.4 L225.6,61.0 L228.6,59.6 L228.6,59.6 L228.6,59.6 L233.9,61.0 L235.5,61.3 L236.6,61.0 L239.6,59.6 L242.5,58.3 L242.7,58.2 L243.4,56.7 L243.9,55.3 L244.4,53.9 L244.1,52.5 L243.7,51.1 L243.3,49.7 L242.8,48.3 L242.5,47.8 L241.0,46.8 L238.2,45.4 L235.5,44.4 L233.4,45.4 L229.6,46.8 L228.6,47.3 L228.1,46.8 L225.6,45.4 L223.3,44.0 L221.6,43.1 L214.7,43.9ZM75.6,37.0 L75.6,36.8 L77.5,37.0 L82.6,37.5 L89.5,38.3 L90.6,38.4 L96.5,39.4 L98.3,39.8 L103.4,41.0 L105.1,41.2 L110.4,41.9 L112.4,42.6 L116.4,44.0 L117.3,44.4 L118.3,44.0 L122.8,42.6 L124.3,42.1 L131.2,42.2 L138.2,41.6 L140.9,42.6 L141.2,44.0 L141.6,45.4 L141.8,46.8 L141.2,48.3 L140.4,49.7 L139.5,51.1 L138.6,52.5 L138.2,53.0 L137.3,53.9 L135.7,55.3 L134.1,56.7 L132.3,58.2 L131.2,59.0 L130.7,59.6 L129.4,61.0 L128.1,62.4 L126.8,63.8 L125.4,65.2 L124.3,66.2 L122.5,65.2 L117.3,63.9 L116.6,63.8 L110.4,62.4 L110.4,62.4 L110.4,62.4 L103.4,63.2 L100.7,63.8 L96.5,64.7 L92.2,65.2 L89.5,65.7 L82.6,66.6 L82.3,66.6 L75.6,67.5 L75.6,66.6 L75.6,65.2 L75.6,63.8 L75.6,62.9 L82.6,62.4 L82.6,62.4 L88.2,61.0 L89.5,60.5 L92.5,59.6 L96.5,58.4 L97.2,58.2 L101.1,56.7 L103.4,55.7 L109.1,56.7 L110.4,56.9 L110.9,56.7 L112.4,55.3 L114.6,53.9 L112.5,52.5 L111.1,51.1 L110.4,50.3 L105.7,49.7 L103.4,49.5 L98.5,48.3 L96.5,47.8 L94.1,46.8 L91.0,45.4 L89.5,44.8 L87.5,44.0 L83.7,42.6 L82.6,42.2 L75.6,42.3 L75.6,41.2 L75.6,39.8 L75.6,38.4 L75.6,37.0ZM124.3,50.4 L123.2,51.1 L121.2,52.5 L119.1,53.9 L121.1,55.3 L122.9,56.7 L124.3,57.8 L125.0,56.7 L125.9,55.3 L126.9,53.9 L126.7,52.5 L126.1,51.1 L124.3,50.4ZM75.6,76.5 L75.6,75.5 L82.6,75.5 L83.4,76.5 L84.9,77.9 L86.8,79.3 L88.9,80.8 L86.3,82.2 L84.2,83.6 L82.9,85.0 L82.6,85.3 L79.7,86.4 L76.5,87.8 L75.6,88.3 L75.6,87.8 L75.6,86.4 L75.6,85.0 L75.6,83.6 L75.6,82.2 L75.6,80.8 L75.6,79.3 L75.6,77.9 L75.6,76.5ZM132.7,131.6 L138.2,130.4 L145.1,130.4 L147.4,131.6 L149.1,133.0 L150.3,134.5 L151.2,135.9 L151.8,137.3 L152.1,138.1 L152.3,138.7 L152.8,140.1 L153.2,141.5 L153.5,142.9 L153.8,144.3 L153.8,145.8 L153.8,147.2 L153.8,148.6 L153.8,150.0 L152.1,150.0 L145.1,150.0 L138.2,150.0 L137.2,150.0 L136.8,148.6 L136.3,147.2 L135.5,145.8 L134.2,144.3 L131.9,142.9 L131.2,142.4 L129.1,141.5 L126.6,140.1 L124.3,138.7 L125.7,137.3 L127.3,135.9 L128.4,134.5 L130.2,133.0 L131.2,132.1 L132.7,131.6ZM115.5,134.5 L117.3,133.0 L119.8,134.5 L121.2,135.9 L122.8,137.3 L124.3,138.7 L119.3,140.1 L117.3,140.3 L116.7,140.1 L113.5,138.7 L113.2,137.3 L114.2,135.9 L115.5,134.5ZM75.6,138.7 L75.6,138.0 L77.6,138.7 L75.6,138.9 L75.6,138.7ZM87.5,138.7 L89.5,137.7 L90.7,138.7 L89.5,139.3 L87.5,138.7Z" fill="#fdae61" stroke="#fdae61" stroke-width="0.4" fill-rule="evenodd"/><path d="M247.8,20.0 L249.5,20.0 L249.5,20.0 L250.5,21.4 L252.1,22.8 L254.7,24.2 L256.4,25.0 L257.0,25.7 L258.2,27.1 L259.9,28.5 L262.2,29.9 L263.4,30.4 L264.3,31.3 L265.5,32.7 L266.7,34.1 L267.8,35.5 L268.8,37.0 L269.8,38.4 L270.3,39.2 L271.9,38.4 L274.6,37.0 L277.3,35.5 L277.3,35.5 L278.9,34.1 L280.1,32.7 L281.0,31.3 L281.5,29.9 L281.7,28.5 L281.8,27.1 L281.8,25.7 L281.9,24.2 L281.9,22.8 L282.0,21.4 L282.1,20.0 L284.2,20.0 L287.1,20.0 L287.2,21.4 L287.3,22.8 L287.3,24.2 L287.4,25.7 L287.5,27.1 L287.6,28.5 L287.8,29.9 L288.1,31.3 L288.6,32.7 L289.1,34.1 L289.7,35.5 L290.4,37.0 L291.1,38.4 L291.2,38.5 L296.9,39.8 L298.1,40.1 L298.4,39.8 L299.0,38.4 L299.7,37.0 L300.3,35.5 L300.9,34.1 L301.4,32.7 L301.8,31.3 L302.1,29.9 L302.6,28.5 L302.7,27.1 L302.8,25.7 L303.0,24.2 L303.1,22.8 L303.2,21.4 L303.3,20.0 L305.1,20.0 L310.4,20.0 L310.7,21.4 L310.9,22.8 L311.2,24.2 L311.4,25.7 L311.6,27.1 L311.8,28.5 L312.0,29.9 L312.0,30.0 L313.6,31.3 L315.7,32.7 L317.3,34.1 L318.6,35.5 L319.0,35.8 L319.4,37.0 L320.2,38.4 L321.0,39.8 L321.7,41.2 L322.5,42.6 L323.3,44.0 L324.1,45.4 L325.0,46.8 L325.8,48.3 L325.9,48.5 L326.3,48.3 L328.5,46.8 L330.8,45.4 L332.9,44.2 L333.4,44.0 L336.2,42.6 L339.2,41.2 L339.9,40.6 L341.5,39.8 L346.8,38.5 L351.1,39.8 L353.0,41.2 L353.8,41.9 L355.5,42.6 L359.6,44.0 L360.7,44.6 L367.7,45.4 L367.7,45.4 L374.6,45.9 L375.5,45.4 L377.9,44.0 L380.9,42.6 L381.6,42.2 L388.5,42.3 L389.4,42.6 L394.3,44.0 L395.5,44.3 L398.9,44.0 L402.4,43.7 L403.2,42.6 L404.2,41.2 L405.2,39.8 L406.1,38.4 L407.0,37.0 L407.7,35.5 L408.6,34.1 L409.4,32.7 L409.3,31.3 L409.3,29.9 L409.1,28.5 L408.7,27.1 L408.3,25.7 L408.0,24.2 L407.7,22.8 L407.4,21.4 L407.1,20.0 L409.4,20.0 L412.2,20.0 L412.1,21.4 L411.9,22.8 L411.7,24.2 L411.4,25.7 L411.0,27.1 L410.3,28.5 L409.8,29.9 L409.7,31.3 L409.5,32.7 L413.1,34.1 L415.3,35.5 L416.3,36.4 L418.7,37.0 L422.9,38.4 L423.3,38.5 L423.3,39.8 L423.3,41.2 L423.3,42.6 L423.3,44.0 L423.3,45.4 L423.3,46.5 L416.3,46.5 L414.0,45.4 L410.3,44.0 L409.4,43.6 L409.1,44.0 L407.8,45.4 L406.4,46.8 L405.1,48.3 L403.8,49.7 L402.4,51.1 L402.4,51.1 L396.6,52.5 L395.5,52.8 L393.6,52.5 L388.5,51.7 L381.6,51.4 L379.2,52.5 L375.5,53.9 L374.6,54.2 L367.7,54.2 L366.7,53.9 L361.8,52.5 L360.7,52.2 L358.5,51.1 L355.8,49.7 L353.8,48.6 L352.6,48.3 L347.6,46.8 L346.8,46.6 L346.2,46.8 L343.7,48.3 L341.6,49.7 L339.9,51.1 L339.9,51.1 L332.9,52.2 L332.3,52.5 L328.6,53.9 L325.9,54.8 L325.1,53.9 L323.8,52.5 L322.6,51.1 L321.5,49.7 L320.5,48.3 L319.5,46.8 L319.0,45.9 L312.0,46.4 L311.4,45.4 L310.3,44.0 L308.9,42.6 L306.8,41.2 L305.1,40.1 L304.3,41.2 L303.0,42.6 L301.7,44.0 L300.4,45.4 L299.2,46.8 L298.1,48.0 L295.9,46.8 L292.7,45.4 L291.2,44.9 L290.4,44.0 L289.3,42.6 L288.1,41.2 L286.9,39.8 L285.7,38.4 L284.5,37.0 L284.2,36.3 L283.9,37.0 L282.3,38.4 L281.0,39.8 L280.0,41.2 L279.0,42.6 L278.3,44.0 L277.5,45.4 L277.3,45.9 L273.8,46.8 L270.3,47.9 L268.9,46.8 L267.5,45.4 L266.3,44.0 L265.4,42.6 L264.5,41.2 L263.8,39.8 L263.4,38.8 L262.1,39.8 L260.9,41.2 L259.9,42.6 L259.1,44.0 L258.4,45.4 L257.8,46.8 L257.3,48.3 L256.9,49.7 L256.5,51.1 L256.4,51.4 L256.3,51.1 L256.0,49.7 L255.7,48.3 L255.4,46.8 L254.9,45.4 L254.4,44.0 L253.7,42.6 L252.8,41.2 L251.6,39.8 L249.9,38.4 L249.5,38.0 L248.9,37.0 L248.5,35.5 L248.3,34.1 L248.3,32.7 L248.2,31.3 L248.1,29.9 L248.1,28.5 L248.0,27.1 L248.0,25.7 L247.9,24.2 L247.9,22.8 L247.8,21.4 L247.8,20.0ZM75.6,42.6 L75.6,42.3 L82.6,42.2 L83.7,42.6 L87.5,44.0 L89.5,44.8 L91.0,45.4 L94.1,46.8 L96.5,47.8 L98.5,48.3 L103.4,49.5 L105.7,49.7 L110.4,50.3 L111.1,51.1 L112.5,52.5 L114.6,53.9 L112.4,55.3 L110.9,56.7 L110.4,56.9 L109.1,56.7 L103.4,55.7 L101.1,56.7 L97.2,58.2 L96.5,58.4 L92.5,59.6 L89.5,60.5 L88.2,61.0 L82.6,62.4 L82.6,62.4 L75.6,62.9 L75.6,62.4 L75.6,61.0 L75.6,59.6 L75.6,58.2 L75.6,56.7 L75.6,55.3 L75.6,53.9 L75.6,52.5 L75.6,51.1 L75.6,49.7 L75.6,48.3 L75.6,46.8 L75.6,45.4 L75.6,44.0 L75.6,42.6ZM82.6,51.1 L80.3,52.5 L77.9,53.9 L80.5,55.3 L82.6,56.7 L84.0,55.3 L86.0,53.9 L84.2,52.5 L82.6,51.1ZM214.5,44.0 L214.7,43.9 L221.6,43.1 L223.3,44.0 L225.6,45.4 L228.1,46.8 L228.6,47.3 L229.6,46.8 L233.4,45.4 L235.5,44.4 L238.2,45.4 L241.0,46.8 L242.5,47.8 L242.8,48.3 L243.3,49.7 L243.7,51.1 L244.1,52.5 L244.4,53.9 L243.9,55.3 L243.4,56.7 L242.7,58.2 L242.5,58.3 L239.6,59.6 L236.6,61.0 L235.5,61.3 L233.9,61.0 L228.6,59.6 L228.6,59.6 L228.6,59.6 L225.6,61.0 L222.7,62.4 L221.6,62.7 L220.8,62.4 L218.5,61.0 L215.9,59.6 L214.7,58.7 L214.4,58.2 L213.7,56.7 L213.2,55.3 L212.8,53.9 L212.5,52.5 L212.2,51.1 L212.5,49.7 L212.9,48.3 L213.3,46.8 L213.9,45.4 L214.5,44.0ZM221.6,50.8 L221.1,51.1 L220.3,52.5 L219.9,53.9 L220.8,55.3 L221.6,56.7 L222.7,55.3 L224.0,53.9 L222.9,52.5 L222.0,51.1 L221.6,50.8ZM123.2,51.1 L124.3,50.4 L126.1,51.1 L126.7,52.5 L126.9,53.9 L125.9,55.3 L125.0,56.7 L124.3,57.8 L122.9,56.7 L121.1,55.3 L119.1,53.9 L121.2,52.5 L123.2,51.1ZM256.2,79.3 L256.4,78.9 L256.6,79.3 L257.1,80.8 L257.6,82.2 L258.1,83.6 L258.7,85.0 L259.3,86.4 L260.0,87.8 L260.6,89.2 L261.3,90.7 L262.1,92.1 L263.0,93.5 L263.4,94.2 L263.7,94.9 L264.4,96.3 L265.0,97.7 L265.7,99.1 L266.4,100.5 L267.1,102.0 L267.8,103.4 L268.5,104.8 L269.3,106.2 L270.0,107.6 L270.3,108.2 L270.9,109.0 L272.2,110.4 L273.9,111.8 L276.1,113.3 L277.3,114.0 L277.5,114.7 L278.0,116.1 L278.4,117.5 L278.8,118.9 L279.2,120.3 L279.6,121.7 L279.9,123.2 L280.3,124.6 L280.7,126.0 L281.0,127.4 L281.4,128.8 L281.7,130.2 L282.1,131.6 L282.4,133.0 L282.7,134.5 L283.0,135.9 L283.3,137.3 L283.6,138.7 L284.0,140.1 L284.2,141.2 L284.7,140.1 L285.3,138.7 L285.9,137.3 L286.4,135.9 L286.9,134.5 L287.4,133.0 L287.8,131.6 L288.3,130.2 L288.7,128.8 L289.1,127.4 L289.5,126.0 L289.8,124.6 L290.2,123.2 L290.5,121.7 L290.9,120.3 L291.2,118.9 L291.9,120.3 L292.7,121.7 L293.7,123.2 L294.9,124.6 L296.3,126.0 L298.1,127.4 L298.1,127.4 L299.5,128.8 L300.7,130.2 L301.8,131.6 L302.8,133.0 L303.7,134.5 L304.6,135.9 L305.1,136.7 L305.9,135.9 L307.2,134.5 L308.5,133.0 L309.6,131.6 L310.8,130.2 L311.8,128.8 L312.0,128.6 L312.4,127.4 L312.9,126.0 L313.4,124.6 L313.9,123.2 L314.3,121.7 L314.8,120.3 L315.2,118.9 L315.7,117.5 L316.1,116.1 L316.5,114.7 L316.9,113.3 L317.3,111.8 L317.7,110.4 L318.1,109.0 L318.5,107.6 L318.9,106.2 L319.0,106.0 L322.7,104.8 L325.9,103.7 L326.8,104.8 L327.9,106.2 L329.0,107.6 L330.1,109.0 L331.2,110.4 L332.2,111.8 L332.9,112.7 L334.9,111.8 L337.5,110.4 L339.3,109.0 L339.9,108.6 L340.1,109.0 L340.6,110.4 L341.3,111.8 L341.9,113.3 L342.6,114.7 L343.3,116.1 L344.1,117.5 L344.9,118.9 L345.8,120.3 L346.8,121.7 L346.8,121.7 L346.8,121.7 L347.7,120.3 L348.6,118.9 L349.5,117.5 L350.5,116.1 L351.5,114.7 L352.5,113.3 L353.5,111.8 L353.8,111.6 L354.2,111.8 L356.9,113.3 L360.0,114.7 L360.7,115.1 L367.7,115.5 L372.5,116.1 L374.6,116.4 L375.4,117.5 L376.5,118.9 L377.6,120.3 L378.7,121.7 L379.9,123.2 L381.1,124.6 L381.6,125.1 L384.4,124.6 L388.5,123.8 L390.3,123.2 L393.6,121.7 L395.5,120.7 L396.3,121.7 L397.3,123.2 L398.2,124.6 L399.2,126.0 L400.1,127.4 L401.0,128.8 L401.9,130.2 L402.4,131.0 L402.9,131.6 L404.0,133.0 L405.1,134.5 L406.1,135.9 L407.0,137.3 L407.9,138.7 L408.7,140.1 L409.4,141.3 L410.2,140.1 L411.1,138.7 L411.9,137.3 L412.7,135.9 L413.4,134.5 L414.1,133.0 L414.8,131.6 L415.4,130.2 L416.0,128.8 L416.3,128.1 L416.8,128.8 L417.6,130.2 L418.4,131.6 L419.4,133.0 L420.4,134.5 L421.6,135.9 L423.0,137.3 L423.3,137.6 L423.3,138.7 L423.3,140.1 L423.3,141.5 L423.3,142.9 L423.3,144.3 L423.3,145.8 L423.3,147.2 L423.3,148.6 L423.3,150.0 L416.3,150.0 L409.4,150.0 L402.9,150.0 L402.6,148.6 L402.4,148.3 L401.4,147.2 L400.0,145.8 L398.7,144.3 L397.7,142.9 L396.7,141.5 L395.9,140.1 L395.5,139.4 L393.7,140.1 L389.6,141.5 L388.5,141.9 L383.5,142.9 L381.6,143.4 L381.1,142.9 L379.0,141.5 L377.4,140.1 L376.2,138.7 L375.3,137.3 L374.6,136.3 L374.0,135.9 L371.5,134.5 L369.7,133.0 L368.2,131.6 L367.7,131.3 L367.3,131.6 L366.2,133.0 L365.1,134.5 L363.8,135.9 L362.3,137.3 L360.7,138.7 L360.7,138.7 L360.7,138.7 L359.1,137.3 L357.7,135.9 L356.4,134.5 L355.2,133.0 L354.2,131.6 L353.8,131.2 L353.5,131.6 L352.9,133.0 L352.3,134.5 L351.6,135.9 L350.8,137.3 L350.0,138.7 L349.0,140.1 L348.0,141.5 L346.8,142.9 L346.8,142.9 L346.8,142.9 L344.4,141.5 L342.5,140.1 L340.9,138.7 L339.9,137.6 L339.4,137.3 L337.3,135.9 L335.1,134.5 L332.9,133.0 L332.9,133.0 L331.9,131.6 L331.0,130.2 L330.1,128.8 L329.3,127.4 L328.5,126.0 L327.7,124.6 L326.9,123.2 L326.2,121.7 L325.9,121.3 L325.5,121.7 L324.4,123.2 L323.3,124.6 L322.2,126.0 L321.0,127.4 L319.9,128.8 L319.0,130.0 L318.9,130.2 L318.6,131.6 L318.3,133.0 L317.9,134.5 L317.6,135.9 L317.2,137.3 L316.8,138.7 L316.4,140.1 L316.0,141.5 L315.5,142.9 L315.1,144.3 L314.6,145.8 L314.1,147.2 L313.6,148.6 L313.0,150.0 L312.0,150.0 L305.1,150.0 L300.4,150.0 L299.9,148.6 L299.4,147.2 L299.0,145.8 L298.5,144.3 L298.1,142.9 L296.8,144.3 L295.4,145.8 L293.8,147.2 L292.2,148.6 L291.2,150.0 L291.2,150.0 L284.2,150.0 L280.0,150.0 L279.9,148.6 L279.7,147.2 L279.6,145.8 L279.5,144.3 L279.4,142.9 L279.3,141.5 L279.0,140.1 L278.7,138.7 L278.4,137.3 L278.1,135.9 L277.9,134.5 L277.6,133.0 L277.3,131.6 L277.3,131.4 L274.9,130.2 L272.8,128.8 L271.3,127.4 L270.3,126.4 L270.0,126.0 L268.8,124.6 L267.7,123.2 L266.8,121.7 L266.0,120.3 L265.3,118.9 L264.7,117.5 L264.1,116.1 L263.6,114.7 L263.4,114.0 L263.0,113.3 L262.1,111.8 L261.2,110.4 L260.4,109.0 L259.6,107.6 L258.9,106.2 L258.2,104.8 L257.5,103.4 L256.9,102.0 L256.4,100.8 L256.1,102.0 L255.8,103.4 L255.4,104.8 L255.0,106.2 L254.5,107.6 L254.1,109.0 L253.6,110.4 L253.1,111.8 L252.6,113.3 L252.0,114.7 L251.5,116.1 L250.9,117.5 L250.3,118.9 L249.6,120.3 L249.5,120.6 L249.1,121.7 L248.8,123.2 L248.4,124.6 L248.1,126.0 L247.8,127.4 L247.6,128.8 L247.3,130.2 L247.1,131.6 L246.8,133.0 L246.8,134.5 L246.6,135.9 L246.4,137.3 L246.7,138.7 L246.9,140.1 L247.2,141.5 L247.7,142.9 L248.0,144.3 L248.2,145.8 L248.2,147.2 L248.3,148.6 L248.4,150.0 L245.7,150.0 L245.6,148.6 L245.5,147.2 L245.4,145.8 L244.8,144.3 L244.0,142.9 L242.8,141.5 L242.5,140.9 L235.5,140.2 L235.4,140.1 L234.2,138.7 L230.0,137.3 L230.5,135.9 L230.9,134.5 L231.9,133.0 L233.0,131.6 L234.2,130.2 L235.5,128.8 L240.6,130.2 L241.8,131.6 L242.4,133.0 L242.5,133.1 L242.5,133.0 L242.6,131.6 L242.7,130.2 L242.7,128.8 L242.8,127.4 L242.9,126.0 L243.0,124.6 L243.2,123.2 L243.3,121.7 L243.4,120.3 L243.6,118.9 L243.8,117.5 L244.0,116.1 L244.1,114.7 L244.3,113.3 L244.6,111.8 L244.9,110.4 L245.3,109.0 L245.8,107.6 L246.5,106.2 L247.5,104.8 L249.0,103.4 L249.5,102.9 L249.6,102.0 L249.9,100.5 L250.1,99.1 L250.4,97.7 L250.7,96.3 L251.0,94.9 L251.3,93.5 L251.6,92.1 L251.9,90.7 L252.2,89.2 L252.5,87.8 L253.2,86.4 L253.9,85.0 L254.5,83.6 L255.1,82.2 L255.6,80.8 L256.2,79.3Z" fill="#f46d43" stroke="#f46d43" stroke-width="0.4" fill-rule="evenodd"/><path d="M249.5,20.0 L256.4,20.0 L263.4,20.0 L270.3,20.0 L273.5,20.0 L273.9,21.4 L274.3,22.8 L274.7,24.2 L275.0,25.7 L275.3,27.1 L275.7,28.5 L276.8,29.9 L277.3,30.0 L277.3,29.9 L277.5,28.5 L277.6,27.1 L277.6,25.7 L277.6,24.2 L277.7,22.8 L277.7,21.4 L277.8,20.0 L282.1,20.0 L282.0,21.4 L281.9,22.8 L281.9,24.2 L281.8,25.7 L281.8,27.1 L281.7,28.5 L281.5,29.9 L281.0,31.3 L280.1,32.7 L278.9,34.1 L277.3,35.5 L277.3,35.5 L274.6,37.0 L271.9,38.4 L270.3,39.2 L269.8,38.4 L268.8,37.0 L267.8,35.5 L266.7,34.1 L265.5,32.7 L264.3,31.3 L263.4,30.4 L262.2,29.9 L259.9,28.5 L258.2,27.1 L257.0,25.7 L256.4,25.0 L254.7,24.2 L252.1,22.8 L250.5,21.4 L249.5,20.0ZM287.1,20.0 L291.2,20.0 L298.1,20.0 L303.3,20.0 L303.2,21.4 L303.1,22.8 L303.0,24.2 L302.8,25.7 L302.7,27.1 L302.6,28.5 L302.1,29.9 L301.8,31.3 L301.4,32.7 L300.9,34.1 L300.3,35.5 L299.7,37.0 L299.0,38.4 L298.4,39.8 L298.1,40.1 L296.9,39.8 L291.2,38.5 L291.1,38.4 L290.4,37.0 L289.7,35.5 L289.1,34.1 L288.6,32.7 L288.1,31.3 L287.8,29.9 L287.6,28.5 L287.5,27.1 L287.4,25.7 L287.3,24.2 L287.3,22.8 L287.2,21.4 L287.1,20.0ZM310.4,20.0 L312.0,20.0 L319.0,20.0 L321.8,20.0 L322.0,21.4 L322.2,22.8 L322.4,24.2 L322.6,25.7 L322.8,27.1 L323.0,28.5 L323.1,29.9 L323.2,31.3 L323.4,32.7 L323.5,34.1 L324.1,35.5 L324.8,37.0 L325.5,38.4 L325.9,39.2 L327.0,38.4 L328.6,37.0 L330.2,35.5 L331.7,34.1 L332.9,32.7 L332.9,32.7 L333.0,31.3 L333.2,29.9 L333.3,28.5 L333.5,27.1 L333.7,25.7 L334.0,24.2 L334.3,22.8 L334.7,21.4 L335.2,20.0 L339.9,20.0 L346.8,20.0 L353.8,20.0 L360.7,20.0 L362.8,20.0 L362.9,21.4 L363.0,22.8 L363.1,24.2 L363.2,25.7 L363.3,27.1 L363.3,28.5 L363.4,29.9 L363.5,31.3 L364.1,32.7 L364.9,34.1 L366.3,35.5 L367.7,36.6 L370.9,35.5 L374.6,34.1 L374.6,34.1 L375.2,32.7 L375.7,31.3 L376.2,29.9 L376.6,28.5 L376.8,27.1 L376.7,25.7 L376.6,24.2 L376.5,22.8 L376.4,21.4 L376.2,20.0 L381.6,20.0 L388.5,20.0 L395.5,20.0 L402.4,20.0 L407.1,20.0 L407.4,21.4 L407.7,22.8 L408.0,24.2 L408.3,25.7 L408.7,27.1 L409.1,28.5 L409.3,29.9 L409.3,31.3 L409.4,32.7 L408.6,34.1 L407.7,35.5 L407.0,37.0 L406.1,38.4 L405.2,39.8 L404.2,41.2 L403.2,42.6 L402.4,43.7 L398.9,44.0 L395.5,44.3 L394.3,44.0 L389.4,42.6 L388.5,42.3 L381.6,42.2 L380.9,42.6 L377.9,44.0 L375.5,45.4 L374.6,45.9 L367.7,45.4 L367.7,45.4 L360.7,44.6 L359.6,44.0 L355.5,42.6 L353.8,41.9 L353.0,41.2 L351.1,39.8 L346.8,38.5 L341.5,39.8 L339.9,40.6 L339.2,41.2 L336.2,42.6 L333.4,44.0 L332.9,44.2 L330.8,45.4 L328.5,46.8 L326.3,48.3 L325.9,48.5 L325.8,48.3 L325.0,46.8 L324.1,45.4 L323.3,44.0 L322.5,42.6 L321.7,41.2 L321.0,39.8 L320.2,38.4 L319.4,37.0 L319.0,35.8 L318.6,35.5 L317.3,34.1 L315.7,32.7 L313.6,31.3 L312.0,30.0 L312.0,29.9 L311.8,28.5 L311.6,27.1 L311.4,25.7 L311.2,24.2 L310.9,22.8 L310.7,21.4 L310.4,20.0ZM395.5,23.6 L394.4,24.2 L392.9,25.7 L392.0,27.1 L391.4,28.5 L391.4,29.9 L391.5,31.3 L391.6,32.7 L392.9,34.1 L394.4,35.5 L395.5,36.5 L397.3,35.5 L399.0,34.1 L400.2,32.7 L401.0,31.3 L401.6,29.9 L401.2,28.5 L400.5,27.1 L399.3,25.7 L397.0,24.2 L395.5,23.6ZM412.2,20.0 L416.3,20.0 L423.3,20.0 L423.3,21.4 L423.3,22.8 L423.3,24.2 L423.3,25.7 L423.3,27.1 L423.3,28.5 L423.3,29.9 L423.3,31.3 L423.3,32.7 L423.3,34.1 L423.3,35.5 L423.3,37.0 L423.3,38.4 L423.3,38.5 L422.9,38.4 L418.7,37.0 L416.3,36.4 L415.3,35.5 L413.1,34.1 L409.5,32.7 L409.7,31.3 L409.8,29.9 L410.3,28.5 L411.0,27.1 L411.4,25.7 L411.7,24.2 L411.9,22.8 L412.1,21.4 L412.2,20.0ZM221.1,51.1 L221.6,50.8 L222.0,51.1 L222.9,52.5 L224.0,53.9 L222.7,55.3 L221.6,56.7 L220.8,55.3 L219.9,53.9 L220.3,52.5 L221.1,51.1ZM80.3,52.5 L82.6,51.1 L84.2,52.5 L86.0,53.9 L84.0,55.3 L82.6,56.7 L80.5,55.3 L77.9,53.9 L80.3,52.5ZM256.1,102.0 L256.4,100.8 L256.9,102.0 L257.5,103.4 L258.2,104.8 L258.9,106.2 L259.6,107.6 L260.4,109.0 L261.2,110.4 L262.1,111.8 L263.0,113.3 L263.4,114.0 L263.6,114.7 L264.1,116.1 L264.7,117.5 L265.3,118.9 L266.0,120.3 L266.8,121.7 L267.7,123.2 L268.8,124.6 L270.0,126.0 L270.3,126.4 L271.3,127.4 L272.8,128.8 L274.9,130.2 L277.3,131.4 L277.3,131.6 L277.6,133.0 L277.9,134.5 L278.1,135.9 L278.4,137.3 L278.7,138.7 L279.0,140.1 L279.3,141.5 L279.4,142.9 L279.5,144.3 L279.6,145.8 L279.7,147.2 L279.9,148.6 L280.0,150.0 L277.3,150.0 L270.3,150.0 L263.4,150.0 L256.4,150.0 L249.5,150.0 L248.4,150.0 L248.3,148.6 L248.2,147.2 L248.2,145.8 L248.0,144.3 L247.7,142.9 L247.2,141.5 L246.9,140.1 L246.7,138.7 L246.4,137.3 L246.6,135.9 L246.8,134.5 L246.8,133.0 L247.1,131.6 L247.3,130.2 L247.6,128.8 L247.8,127.4 L248.1,126.0 L248.4,124.6 L248.8,123.2 L249.1,121.7 L249.5,120.6 L249.6,120.3 L250.3,118.9 L250.9,117.5 L251.5,116.1 L252.0,114.7 L252.6,113.3 L253.1,111.8 L253.6,110.4 L254.1,109.0 L254.5,107.6 L255.0,106.2 L255.4,104.8 L255.8,103.4 L256.1,102.0ZM256.4,131.9 L255.9,133.0 L255.3,134.5 L254.9,135.9 L254.6,137.3 L254.3,138.7 L254.8,140.1 L255.4,141.5 L256.0,142.9 L256.4,143.8 L256.9,142.9 L257.7,141.5 L258.2,140.1 L258.7,138.7 L258.4,137.3 L258.0,135.9 L257.5,134.5 L256.9,133.0 L256.4,131.9ZM325.5,121.7 L325.9,121.3 L326.2,121.7 L326.9,123.2 L327.7,124.6 L328.5,126.0 L329.3,127.4 L330.1,128.8 L331.0,130.2 L331.9,131.6 L332.9,133.0 L332.9,133.0 L335.1,134.5 L337.3,135.9 L339.4,137.3 L339.9,137.6 L340.9,138.7 L342.5,140.1 L344.4,141.5 L346.8,142.9 L346.8,142.9 L346.8,142.9 L348.0,141.5 L349.0,140.1 L350.0,138.7 L350.8,137.3 L351.6,135.9 L352.3,134.5 L352.9,133.0 L353.5,131.6 L353.8,131.2 L354.2,131.6 L355.2,133.0 L356.4,134.5 L357.7,135.9 L359.1,137.3 L360.7,138.7 L360.7,138.7 L360.7,138.7 L362.3,137.3 L363.8,135.9 L365.1,134.5 L366.2,133.0 L367.3,131.6 L367.7,131.3 L368.2,131.6 L369.7,133.0 L371.5,134.5 L374.0,135.9 L374.6,136.3 L375.3,137.3 L376.2,138.7 L377.4,140.1 L379.0,141.5 L381.1,142.9 L381.6,143.4 L383.5,142.9 L388.5,141.9 L389.6,141.5 L393.7,140.1 L395.5,139.4 L395.9,140.1 L396.7,141.5 L397.7,142.9 L398.7,144.3 L400.0,145.8 L401.4,147.2 L402.4,148.3 L402.6,148.6 L402.9,150.0 L402.4,150.0 L395.5,150.0 L388.5,150.0 L381.6,150.0 L374.6,150.0 L367.7,150.0 L360.7,150.0 L353.8,150.0 L346.8,150.0 L339.9,150.0 L332.9,150.0 L328.3,150.0 L327.6,148.6 L326.9,147.2 L326.1,145.8 L325.9,145.5 L325.8,145.8 L325.0,147.2 L324.3,148.6 L323.6,150.0 L319.0,150.0 L313.0,150.0 L313.6,148.6 L314.1,147.2 L314.6,145.8 L315.1,144.3 L315.5,142.9 L316.0,141.5 L316.4,140.1 L316.8,138.7 L317.2,137.3 L317.6,135.9 L317.9,134.5 L318.3,133.0 L318.6,131.6 L318.9,130.2 L319.0,130.0 L319.9,128.8 L321.0,127.4 L322.2,126.0 L323.3,124.6 L324.4,123.2 L325.5,121.7ZM296.8,144.3 L298.1,142.9 L298.5,144.3 L299.0,145.8 L299.4,147.2 L299.9,148.6 L300.4,150.0 L298.1,150.0 L291.2,150.0 L292.2,148.6 L293.8,147.2 L295.4,145.8 L296.8,144.3Z" fill="#d73027" stroke="#d73027" stroke-width="0.4" fill-rule="evenodd"/><path d="M273.5,20.0 L277.3,20.0 L277.8,20.0 L277.7,21.4 L277.7,22.8 L277.6,24.2 L277.6,25.7 L277.6,27.1 L277.5,28.5 L277.3,29.9 L277.3,30.0 L276.8,29.9 L275.7,28.5 L275.3,27.1 L275.0,25.7 L274.7,24.2 L274.3,22.8 L273.9,21.4 L273.5,20.0ZM321.8,20.0 L325.9,20.0 L332.9,20.0 L335.2,20.0 L334.7,21.4 L334.3,22.8 L334.0,24.2 L333.7,25.7 L333.5,27.1 L333.3,28.5 L333.2,29.9 L333.0,31.3 L332.9,32.7 L332.9,32.7 L331.7,34.1 L330.2,35.5 L328.6,37.0 L327.0,38.4 L325.9,39.2 L325.5,38.4 L324.8,37.0 L324.1,35.5 L323.5,34.1 L323.4,32.7 L323.2,31.3 L323.1,29.9 L323.0,28.5 L322.8,27.1 L322.6,25.7 L322.4,24.2 L322.2,22.8 L322.0,21.4 L321.8,20.0ZM362.8,20.0 L367.7,20.0 L374.6,20.0 L376.2,20.0 L376.4,21.4 L376.5,22.8 L376.6,24.2 L376.7,25.7 L376.8,27.1 L376.6,28.5 L376.2,29.9 L375.7,31.3 L375.2,32.7 L374.6,34.1 L374.6,34.1 L370.9,35.5 L367.7,36.6 L366.3,35.5 L364.9,34.1 L364.1,32.7 L363.5,31.3 L363.4,29.9 L363.3,28.5 L363.3,27.1 L363.2,25.7 L363.1,24.2 L363.0,22.8 L362.9,21.4 L362.8,20.0ZM394.4,24.2 L395.5,23.6 L397.0,24.2 L399.3,25.7 L400.5,27.1 L401.2,28.5 L401.6,29.9 L401.0,31.3 L400.2,32.7 L399.0,34.1 L397.3,35.5 L395.5,36.5 L394.4,35.5 L392.9,34.1 L391.6,32.7 L391.5,31.3 L391.4,29.9 L391.4,28.5 L392.0,27.1 L392.9,25.7 L394.4,24.2ZM255.9,133.0 L256.4,131.9 L256.9,133.0 L257.5,134.5 L258.0,135.9 L258.4,137.3 L258.7,138.7 L258.2,140.1 L257.7,141.5 L256.9,142.9 L256.4,143.8 L256.0,142.9 L255.4,141.5 L254.8,140.1 L254.3,138.7 L254.6,137.3 L254.9,135.9 L255.3,134.5 L255.9,133.0ZM325.8,145.8 L325.9,145.5 L326.1,145.8 L326.9,147.2 L327.6,148.6 L328.3,150.0 L325.9,150.0 L323.6,150.0 L324.3,148.6 L325.0,147.2 L325.8,145.8Z" fill="#a50026" stroke="#a50026" stroke-width="0.4" fill-rule="evenodd"/><path d="M228.6,21.6 L226.1,22.8 L223.8,24.2 L222.2,25.7 L224.9,27.1 L226.6,28.5 L227.9,29.9 L228.6,30.4 L229.4,29.9 L230.3,28.5 L231.1,27.1 L231.4,25.7 L230.7,24.2 L229.8,22.8ZM75.6,26.5 L78.4,27.1 L82.1,28.5 L82.6,28.6 L82.7,28.5 L83.2,27.1 L83.8,25.7 L84.4,24.2 L85.1,22.8 L85.9,21.4 L86.7,20.0M284.2,69.9 L283.9,70.9 L283.4,72.3 L283.0,73.7 L283.3,75.1 L283.7,76.5 L284.2,77.4 L284.6,76.5 L285.0,75.1 L285.3,73.7 L284.9,72.3 L284.5,70.9ZM219.0,20.0 L218.7,25.7 L219.4,27.1 L220.4,28.5 L221.6,29.9 L224.2,31.3 L228.6,32.6 L231.9,32.0M241.7,26.0 L242.5,25.7 L242.8,20.0M75.6,32.9 L82.6,33.5 L89.0,34.1 L89.5,34.2 L96.5,34.3 L103.4,34.2 L110.4,34.1 L110.4,34.1 L117.3,32.9 L117.5,32.7 L118.3,31.3 L119.9,29.9 L124.3,28.5 L124.3,28.5 L124.6,27.1 L124.9,25.7 L125.3,24.2 L125.7,22.8 L126.1,21.4 L126.6,20.0M284.2,59.9 L282.5,62.4 L280.8,65.2 L278.5,69.5 L277.3,72.1 L277.1,72.3 L275.3,75.1 L275.0,76.5 L277.3,80.4 L277.5,80.8 L279.0,82.2M287.9,81.8 L288.6,80.8 L289.3,79.3 L290.0,77.9 L291.1,75.1 L290.8,73.7 L289.3,69.5 L288.2,66.6 L286.7,63.8 L285.9,62.4 L285.0,61.0 L284.2,59.9M305.1,65.2 L303.6,68.0 L302.8,69.5 L301.9,70.9 L300.8,72.3 L299.7,73.7 L298.4,75.1 L298.8,76.5 L301.5,80.8 L303.7,83.9M305.9,84.1 L306.8,82.2 L307.9,79.3 L308.2,76.5 L306.7,70.9 L305.1,65.2M145.1,73.9 L143.5,75.1 L142.0,76.5 L142.5,77.9 L143.8,79.3 L145.1,80.5 L146.2,79.3 L147.2,77.9 L147.5,76.5 L146.5,75.1ZM173.0,74.2 L171.5,75.1 L169.5,76.5 L167.9,77.9 L166.5,79.3 L166.9,80.8 L167.6,82.2 L168.7,83.6 L170.7,85.0 L173.0,86.1 L174.3,85.0 L175.9,83.6 L176.9,82.2 L177.7,80.8 L178.0,79.3 L177.0,77.9 L175.8,76.5 L174.2,75.1ZM77.9,150.0 L76.5,148.6 L75.6,148.1M156.5,20.0 L155.9,25.7M161.8,25.2 L162.2,20.0M214.7,20.0 L215.2,22.8 L215.6,25.7 L216.0,27.1 L216.5,28.5 L217.1,29.9 L218.4,31.3 L221.6,33.2 L223.7,34.1 L228.6,35.5 L229.4,35.5M240.6,32.5 L242.5,31.3 L243.1,29.9 L243.6,28.5 L244.0,27.1 L244.3,25.7 L244.5,20.0M75.6,34.8 L85.5,35.5 L96.5,36.6 L103.4,36.8 L110.4,36.6 L112.1,36.8M123.3,35.5 L124.3,35.0 L131.2,34.1 L131.7,32.7 L132.1,31.3 L132.6,28.5 L133.1,24.2 L133.3,20.0M284.2,51.1 L283.3,52.5 L281.3,55.3 L279.0,58.2 L277.8,59.6 L277.3,60.3 L276.4,61.0 L270.3,66.9 L269.6,68.0 L268.9,69.5 L268.4,70.9 L268.0,72.3 L267.7,73.7 L267.5,75.1 L268.6,79.3 L269.0,80.8 L269.8,83.1M277.3,92.1 L284.2,97.7 L288.3,93.5 L291.2,90.7 L296.7,92.1 L298.1,92.6 L299.9,94.9 L301.2,96.3 L302.5,97.7 L305.1,100.3 L306.9,97.7 L307.9,96.3 L309.5,93.5 L311.0,90.7 L311.7,89.2 L313.4,85.0 L314.1,83.6 L314.9,82.2 L315.7,80.8 L316.7,79.3 L317.4,77.9 L319.0,76.5 L312.7,70.9 L312.0,70.4 L310.3,65.2 L309.1,62.4 L307.8,59.6 L307.1,58.2 L305.4,55.3 L305.1,54.9 L304.7,55.3 L303.7,56.7 L302.5,58.2 L301.2,59.6 L299.8,61.0 L298.1,62.4 L293.8,61.0 L291.2,59.4 L290.2,58.2 L286.5,53.9 L284.2,51.1M152.1,57.8 L151.0,58.2 L145.1,59.6 L143.3,61.0 L141.2,62.4 L138.7,63.8 L138.2,64.3 L137.2,65.2 L135.1,66.6 L131.2,68.0 L130.0,69.5 L127.8,70.9 L127.3,72.3 L127.0,73.7 L127.6,75.1 L128.5,76.5 L129.6,77.9M137.8,85.7 L138.2,86.1 L138.5,86.4 L139.4,87.8 L140.0,89.2 L140.6,90.7 L141.2,92.1 L141.0,93.5 L140.6,94.9 L140.0,96.3 L138.9,97.7 L138.2,98.0 L133.8,99.1 L133.4,100.5 L133.3,102.0 L134.5,103.4 L136.0,104.8 L138.2,106.2 L145.1,107.1 L145.5,106.2 L145.9,104.8 L146.3,103.4 L146.9,100.5 L147.5,97.7 L148.1,93.5 L148.5,89.2 L149.2,87.8 L150.7,86.4 L152.1,85.0 L153.9,86.4 L155.2,87.8 L155.8,89.2 L156.3,104.8 L157.0,109.0 L157.6,111.8 L158.4,114.7 L159.0,116.6 L161.7,114.7 L164.2,113.3 L166.0,112.4 L172.4,109.0 L173.0,108.8 L179.9,107.6 L181.6,106.2 L184.0,104.8 L186.9,103.6 L187.6,102.0 L186.9,100.1 L186.2,99.1 L185.7,97.7 L186.2,96.3 L186.8,94.9 L186.9,94.7 L188.3,93.5 L193.8,89.2 L200.8,87.8 L202.3,89.2 L203.7,90.7 L204.9,92.1 L206.1,93.5 L207.1,94.9 L207.7,95.6 L208.0,94.9 L208.4,93.5 L208.9,90.7 L209.3,87.8 L209.6,83.6 L210.8,76.5 L211.3,75.1 L212.2,73.7 L212.7,72.3 L212.3,69.5 L211.4,68.0 L210.2,66.6 L209.4,65.2 L208.7,63.8 L208.3,62.4 L207.9,61.0 L207.7,60.7 L207.3,61.0 L206.4,62.4 L205.2,63.8 L203.5,65.2 L200.8,66.6 L195.6,65.2 L193.8,64.3 L192.6,63.8 L189.1,62.4 L187.5,61.0 L186.9,60.1 L186.1,61.0 L184.3,62.4 L179.9,64.3 L179.0,63.8 L174.9,62.4 L173.0,61.7 L172.0,62.4 L170.2,63.8 L168.1,65.2 L166.0,66.4 L163.7,66.6 L159.0,67.2 L158.4,66.6 L156.1,65.2 L154.7,63.8 L153.8,62.4 L153.1,61.0 L152.6,59.6 L152.1,57.8M423.3,60.8 L423.1,61.0 L422.2,62.4 L420.6,63.8 L416.3,65.2 L413.1,63.8 L411.4,62.4 L410.5,61.0 L409.8,59.6 L409.4,58.9 L409.2,59.6 L408.8,61.0 L408.4,62.4 L407.8,63.8 L407.0,65.2 L405.9,66.6 L404.1,68.0 L402.4,69.2 L402.1,69.5 L401.1,70.9 L399.7,72.3 L397.5,73.7 L395.5,74.8 L390.8,73.7 L388.5,73.1 L383.7,72.3 L381.6,72.0 L381.3,72.3 L380.4,73.7 L379.4,75.1 L378.1,76.5 L376.6,77.9 L374.6,79.3 L375.8,80.8 L376.5,82.2 L378.1,85.0 L379.1,86.9M387.3,92.9 L388.5,93.1 L389.7,92.1 L391.8,90.7 L395.5,88.9 L396.6,89.2 L400.4,90.7 L402.4,92.1 L403.9,93.5 L405.0,94.9 L406.0,96.3 L406.7,97.7 L407.4,99.1 L407.9,100.5 L408.4,102.0 L409.2,104.8 L409.4,105.3 L409.6,104.8 L410.1,102.0 L410.9,99.1 L411.8,96.3 L412.4,94.9 L413.0,93.5 L413.7,92.1 L414.6,90.7 L416.3,88.3 L418.3,89.2 L420.5,90.7 L421.9,92.1 L423.0,93.5 L423.3,93.9M346.8,63.8 L344.8,68.0 L343.3,70.9 L341.7,73.7 L339.9,76.5 L338.3,75.1 L336.2,73.7 L333.5,72.3 L332.9,72.0 L330.3,73.7 L328.4,75.1 L326.9,76.5 L328.4,77.9M337.8,78.2 L339.9,76.5 L341.8,79.3 L343.6,82.2 L345.1,85.0 L346.5,87.8 L346.8,88.2 L348.4,87.8M359.9,85.5 L360.7,85.3 L361.0,85.0 L362.5,82.2 L364.2,79.3 L363.2,77.9 L362.4,76.5 L361.6,75.1 L361.0,73.7 L360.7,73.4 L358.4,72.3 L355.8,70.9 L354.0,69.5 L351.7,68.0 L349.6,66.6 L348.1,65.2 L346.8,63.8M117.3,67.4 L114.1,68.0 L110.4,68.9 L96.5,70.9 L97.1,72.3 L103.4,73.7 L105.6,75.1 L111.6,76.8M121.0,74.0 L121.2,73.7 L121.7,72.3 L121.4,70.9 L119.3,69.5 L118.0,68.0 L117.3,67.4M228.6,69.8 L224.3,70.9 L221.4,72.3 L227.3,73.7 L228.6,73.9 L235.5,73.7 L240.9,73.4M240.5,69.8 L228.6,69.8M110.4,85.0 L109.1,86.4 L108.1,87.8 L107.2,89.2 L106.4,90.7 L105.7,92.1 L105.2,93.5 L104.8,96.3 L104.5,100.5 L104.3,104.8 L104.5,109.0 L104.9,113.3 L106.1,116.1 L107.3,118.4M113.0,118.2 L114.2,116.1 L115.9,113.3 L116.2,109.0 L116.5,104.8 L116.3,100.5 L116.1,97.7 L115.9,96.3 L115.6,94.9 L115.2,93.5 L114.7,92.1 L114.2,90.7 L113.5,89.2 L112.7,87.8 L111.9,86.4 L110.4,85.0M75.6,121.7 L80.5,123.2 L82.6,123.9 L84.6,123.2 L89.5,121.7 L92.5,120.3 L95.4,118.9 L96.5,118.5 L97.8,117.5 L99.5,116.1 L100.7,114.7 L101.7,113.3 L101.2,111.8 L100.4,110.4 L98.8,109.0 L96.5,107.7 L96.4,107.6 L96.3,106.2 L96.1,104.8 L95.8,103.4 L95.2,102.0 L94.0,100.5 L89.5,99.1 L86.9,97.7 L84.4,96.3 L82.6,95.5 L81.4,96.3 L78.8,97.7 L75.6,98.8M132.2,150.0 L131.4,148.6 L131.2,148.4 L125.1,147.2 L124.3,146.7 L118.7,145.8 L110.4,145.4 L103.4,145.6 L101.7,145.7M90.0,145.6 L89.5,145.6 L85.8,144.3 L83.4,142.9 L82.6,142.5 L80.7,142.9 L75.6,143.7M232.1,150.0 L230.3,148.6 L229.0,147.2 L228.6,146.9 L227.6,147.1M150.6,20.0 L148.3,25.7 L147.8,27.5M140.3,29.4 L138.2,27.9 L137.6,25.7 L137.4,24.2 L136.8,20.0M208.4,20.0 L208.1,21.4 L207.7,22.8 L207.2,25.7 L207.1,42.6 L206.9,46.8 L206.6,49.7 L206.4,51.1 L206.2,52.5 L205.8,53.9 L205.1,55.3 L203.7,56.7 L200.8,57.6 L199.0,56.7 L193.8,55.5 L193.6,55.3 L192.8,53.9 L192.0,52.5 L191.4,51.1 L190.3,48.3 L190.5,46.8 L190.8,45.4 L191.2,44.0 L191.7,42.6 L192.8,41.2 L193.8,40.2 L194.1,39.8 L194.8,38.4 L195.4,37.0 L195.8,35.5 L195.9,34.1 L195.4,32.7 L194.9,31.3 L194.3,29.9 L193.8,29.1 L191.5,28.5 L188.6,27.1 L187.2,25.7 L186.9,25.4 L186.6,25.7 L185.7,27.1 L184.6,28.5 L182.9,29.9 L180.3,31.3 L180.9,32.7 L182.3,34.1 L183.0,35.5 L183.4,37.0 L183.7,38.4 L183.8,39.8 L184.1,42.6 L183.2,45.4 L182.2,48.3 L181.2,51.1 L179.9,53.9 L173.0,54.4 L169.7,55.3 L166.0,57.0 L162.2,58.2 L159.7,59.6 L159.0,59.8 L158.9,59.6 L157.6,55.3 L156.8,52.5 L155.6,48.3 L155.7,42.6 L156.3,39.8 L156.6,38.4 L157.1,37.0 L157.7,35.5 L158.4,34.1 L159.0,33.8 L164.4,32.7 L166.0,31.8 L167.4,32.7 L168.6,34.1 L170.5,35.5 L173.0,37.0 L177.1,34.1 L178.8,32.7 L179.0,31.3 L172.0,29.9 L170.4,28.5 L170.0,27.1 L169.8,25.7 L169.6,22.8 L169.5,20.0M75.6,36.8 L77.5,37.0 L90.6,38.4 L96.5,39.4 L103.4,41.0 L105.1,41.2 L110.4,41.9 L116.4,44.0 L117.3,44.4 L118.3,44.0 L124.3,42.1 L131.2,42.2 L138.2,41.6 L139.3,42.0M138.6,52.5 L137.3,53.9 L135.7,55.3 L134.1,56.7 L132.3,58.2 L131.2,59.0 L129.4,61.0 L126.8,63.8 L125.4,65.2 L124.3,66.2 L122.5,65.2 L117.3,63.9 L116.6,63.8 L110.4,62.4 L103.4,63.2 L100.7,63.8 L96.5,64.7 L92.2,65.2 L89.5,65.7 L75.6,67.5M423.3,53.6 L421.3,53.9 L416.3,54.8 L414.9,53.9 L412.2,52.5 L409.4,51.1 L408.1,52.5 L405.6,55.3 L403.3,58.2 L402.4,59.3 L401.9,59.6 L399.1,61.0 L396.5,62.4 L395.5,63.0 L388.5,61.3 L381.6,61.8 L375.5,63.8 L374.6,64.2 L367.7,64.8 L366.0,63.8 L364.3,62.8M354.4,56.7 L353.8,56.3 L346.8,54.3 L343.6,56.7 L339.9,59.4 L332.9,60.3 L331.0,61.0 L325.9,62.4 L323.3,61.0 L321.7,59.6 L320.7,58.2 L319.9,56.7 L319.0,54.5 L312.0,55.3 L311.0,53.9 L309.8,52.5 L308.5,51.1 L307.0,49.7 L305.1,48.0 L298.1,54.8 L296.3,53.9 L293.5,52.5 L291.2,51.1 L289.7,49.7 L288.3,48.3 L287.1,46.8 L286.0,45.4 L284.2,43.0 L283.5,44.0 L281.7,46.8 L280.8,48.3 L278.7,51.1 L277.3,52.8 L273.9,53.9 L270.3,55.1 L269.0,55.3 L265.1,56.7 L263.4,57.9 L262.6,59.6 L261.8,61.0 L260.6,62.4 L260.4,63.8 L260.2,65.2 L260.1,68.0 L260.8,70.9 L261.4,72.3 L261.9,73.7 L262.2,75.1 L262.9,77.9 L263.3,80.8 L264.4,83.6 L265.1,85.0 L266.1,86.4 L267.3,87.8 L270.3,90.4 L270.5,90.7 L271.5,93.5 L272.1,94.9 L273.5,97.7 L274.2,99.1 L275.1,100.5 L276.0,102.0 L277.0,103.4 L278.2,104.8 L279.3,106.2 L280.1,107.6 L280.9,109.0 L281.5,110.4 L282.0,111.8 L282.5,113.3 L283.3,116.1 L284.2,120.0 L285.9,114.7 L287.4,110.4 L289.1,106.2 L290.4,103.4 L291.0,102.0 L291.2,101.8 L291.4,102.0 L298.1,109.9 L300.2,111.8 L301.7,113.3 L305.1,116.1 L306.5,114.7 L307.8,113.3 L309.0,111.8 L310.1,110.4 L311.1,109.0 L312.0,107.6 L313.5,103.4 L315.1,99.1 L316.9,94.9 L319.0,90.7 L325.9,90.7 L330.4,93.5 L332.5,94.9 L332.9,95.2 L337.0,93.5 L339.9,92.1 L340.8,93.5 L341.8,94.9 L342.9,96.3 L344.1,97.7 L346.8,100.4 L348.9,99.1 L351.2,97.7 L353.1,96.3 L353.8,95.9 L354.9,96.3 L357.9,97.7 L360.7,98.9 L367.7,97.7 L374.6,99.1 L376.8,102.0 L378.0,103.4 L381.6,107.4 L387.1,110.4 L388.5,111.2 L389.4,110.4 L390.8,109.0 L392.4,107.6 L395.5,105.1 L397.0,106.2 L398.7,107.6 L400.2,109.0 L401.7,110.4 L402.4,111.3 L403.6,113.3 L404.5,114.7 L405.5,116.1 L406.6,117.5 L409.4,120.7 L411.5,117.5 L413.2,114.7 L414.7,111.8 L416.3,108.2 L418.1,110.4 L420.1,113.3 L421.9,116.1 L423.3,118.6M75.6,75.5 L82.6,75.5 L83.4,76.5 L84.9,77.9 L86.8,79.3M86.3,82.2 L84.2,83.6 L82.9,85.0 L82.6,85.3 L79.7,86.4 L75.6,88.3M115.5,134.5 L117.3,133.0 L119.8,134.5 L121.2,135.9 L122.8,137.3 L124.3,138.7 L119.3,140.1 L117.3,140.3 L116.7,140.1 L113.5,138.7 L113.2,137.3 L114.2,135.9 L115.5,134.5M75.6,138.0 L77.6,138.7 L75.6,138.9M87.5,138.7 L89.5,137.7 L90.7,138.7 L89.5,139.3ZM137.2,150.0 L136.8,148.6 L136.3,147.2 L135.5,145.8 L134.2,144.3 L131.9,142.9 L131.2,142.4 L129.1,141.5 L126.6,140.1 L124.3,138.7 L125.2,137.8M134.4,131.3 L138.2,130.4 L145.1,130.4 L147.4,131.6 L149.1,133.0 L150.3,134.5 L151.2,135.9 L152.1,138.1 L152.8,140.1 L153.2,141.5 L153.8,144.3 L153.8,150.0M166.0,150.0 L166.7,148.6 L167.6,147.2 L168.8,145.8 L170.0,144.3 L171.5,142.9 L173.0,141.7 L173.5,140.1 L174.1,138.7 L174.7,137.3 L175.5,135.9 L176.4,134.5 L177.5,133.0 L178.9,131.6 L179.9,130.7 L186.9,130.8 L187.2,130.2 L188.4,127.4 L189.1,126.0 L189.9,124.6 L190.8,123.2 L191.8,121.7 L194.2,118.9 L196.0,116.1 L197.1,114.7 L198.2,113.3 L199.4,111.8 L200.8,110.4 L203.2,112.4M212.9,113.3 L214.7,112.3 L216.2,114.7 L217.1,116.1 L217.8,117.5 L218.4,118.9 L219.5,121.7 L220.4,124.6 L221.1,127.4 L221.4,128.8 L221.6,129.6 L222.4,127.4 L223.0,126.0 L223.9,124.6 L225.2,123.2 L227.3,121.7 L228.6,120.8 L228.8,120.3 L229.0,118.9 L230.3,111.8 L230.7,109.0 L231.2,104.8 L230.7,100.5 L230.1,96.3 L229.1,92.1 L228.7,90.7 L228.6,90.6 L221.6,92.1 L214.7,90.7 L214.3,89.2 L213.6,86.4 L213.4,85.0 L213.3,83.6 L214.7,76.5 L221.6,77.8 L228.6,77.8 L229.6,77.9 L235.5,79.2 L241.6,77.9 L242.5,77.8 L243.4,77.9 L249.5,79.2 L251.6,76.5 L252.6,75.1 L253.4,73.7 L254.1,72.3 L254.2,70.9 L253.9,69.5 L253.4,68.0 L252.4,66.6 L249.5,65.2 L250.8,62.4 L250.8,59.6 L250.4,58.2 L250.2,56.7 L249.8,53.9 L249.5,51.1 L249.4,50.6 L249.4,51.1 L249.3,53.9 L249.0,56.7 L248.9,58.2 L248.7,59.6 L248.6,62.4 L248.4,63.8 L242.5,64.6 L235.5,65.2 L228.6,65.4 L221.6,65.7 L219.1,65.2 L214.7,64.1 L213.1,62.4 L211.1,59.6 L209.8,58.2 L208.1,56.7 L208.0,51.1 L208.1,45.4 L208.1,44.0 L208.2,42.6 L208.4,41.2 L208.9,39.8 L211.5,38.4 L211.9,38.3M223.3,39.2 L226.1,39.8 L228.6,40.5 L234.9,38.4 L240.7,37.0 L242.5,35.5 L244.0,34.1 L244.8,32.7 L245.4,31.3 L245.8,28.5 L246.2,25.7 L246.1,20.0M243.0,150.0 L242.5,145.7 L238.6,144.3 L236.2,142.9M224.6,141.1 L223.4,141.5 L221.6,142.9 L215.1,144.3 L214.7,144.9 L214.4,145.8 L213.9,147.2 L213.1,150.0M75.6,42.3 L82.6,42.2 L83.7,42.6 L89.5,44.8 L91.0,45.4 L94.1,46.8 L96.5,47.8 L103.4,49.5M114.3,53.7 L114.6,53.9 L112.4,55.3 L110.9,56.7 L110.4,56.9 L109.1,56.7 L103.4,55.7 L101.1,56.7 L97.2,58.2 L92.5,59.6 L88.2,61.0 L82.6,62.4 L75.6,62.9M214.5,44.0 L214.7,43.9 L221.6,43.1 L223.3,44.0 L225.6,45.4 L228.1,46.8 L228.6,47.3 L229.6,46.8 L233.4,45.4 L235.5,44.4 L238.2,45.4 L241.0,46.8 L242.5,47.8 L242.8,48.3 L243.3,49.7 L243.7,51.1 L244.4,53.9 L243.9,55.3 L243.4,56.7 L242.7,58.2 L242.5,58.3 L240.4,59.2M229.4,59.8 L228.6,59.6 L222.7,62.4 L221.6,62.7 L220.8,62.4 L218.5,61.0 L215.9,59.6 L214.7,58.7 L214.4,58.2 L213.7,56.7 L213.2,55.3 L212.8,53.9 L212.2,51.1 L212.9,48.3 L213.3,46.8 L213.9,45.4 L214.5,44.0M423.3,46.5 L416.3,46.5 L414.0,45.4 L409.4,43.6 L409.1,44.0 L402.4,51.1 L396.6,52.5 L395.5,52.8 L388.5,51.7 L381.6,51.4 L379.2,52.5 L374.6,54.2 L367.7,54.2 L366.7,53.9 L361.8,52.5 L360.7,52.2 L353.8,48.6 L350.5,47.7M339.9,51.1 L332.9,52.2 L332.3,52.5 L328.6,53.9 L325.9,54.8 L323.8,52.5 L322.6,51.1 L321.5,49.7 L320.5,48.3 L319.0,45.9 L312.0,46.4 L310.3,44.0 L308.9,42.6 L306.8,41.2 L305.1,40.1 L304.3,41.2 L298.1,48.0 L295.9,46.8 L292.7,45.4 L291.2,44.9 L284.5,37.0 L284.2,36.3 L283.9,37.0 L282.3,38.4 L281.0,39.8 L280.0,41.2 L279.0,42.6 L277.5,45.4 L277.3,45.9 L270.3,47.9 L268.9,46.8 L267.5,45.4 L266.3,44.0 L265.4,42.6 L264.5,41.2 L263.4,38.8 L262.1,39.8 L260.9,41.2 L259.9,42.6 L259.1,44.0 L258.4,45.4 L257.8,46.8 L257.3,48.3 L256.5,51.1 L256.4,51.4 L256.3,51.1 L255.7,48.3 L255.4,46.8 L254.9,45.4 L254.4,44.0 L253.7,42.6 L252.8,41.2 L251.6,39.8 L249.5,38.0 L248.9,37.0 L248.5,35.5 L248.3,34.1 L248.1,29.9 L247.8,20.0M123.2,51.1 L124.3,50.4 L126.1,51.1 L126.7,52.5 L126.9,53.9 L125.9,55.3 L124.3,57.8 L121.1,55.3 L119.1,53.9 L121.2,52.5 L123.2,51.1M245.7,150.0 L245.4,145.8 L244.8,144.3 L244.0,142.9 L242.8,141.5 L242.5,140.9 L235.5,140.2 L235.4,140.1 L234.2,138.7 L230.0,137.3 L230.5,135.9 L230.9,134.5 L231.9,133.0 L233.0,131.6 L234.2,130.2 L235.5,128.8 L240.6,130.2 L241.8,131.6 L242.4,133.0 L242.5,133.1 L242.9,126.0 L243.4,120.3 L244.3,113.3 L244.9,110.4 L245.3,109.0 L245.8,107.6 L246.5,106.2 L247.5,104.8 L249.0,103.4 L249.5,102.9 L251.0,94.9 L251.9,90.7 L252.5,87.8 L254.5,83.6 L256.4,78.9 L256.6,79.3 L257.6,82.2 L258.1,83.6 L259.3,86.4 L260.6,89.2 L261.3,90.7 L262.1,92.1 L263.0,93.5 L263.7,94.9 L265.7,99.1 L267.1,102.0 L270.3,108.2 L270.9,109.0 L272.2,110.4 L273.9,111.8 L277.3,114.0 L277.5,114.7 L278.8,118.9 L280.7,126.0 L282.1,131.6 L284.2,141.2 L285.9,137.3 L286.9,134.5 L287.8,131.6 L288.7,128.8 L289.5,126.0 L290.2,123.2 L291.2,118.9 L291.9,120.3 L292.7,121.7 L293.7,123.2 L294.9,124.6 L296.3,126.0 L298.1,127.4 L299.5,128.8 L300.7,130.2 L301.8,131.6 L302.8,133.0 L303.7,134.5 L305.1,136.7 L307.2,134.5 L308.5,133.0 L309.6,131.6 L312.0,128.6 L312.8,126.4M316.4,115.1 L319.0,106.0 L325.9,103.7 L326.8,104.8 L332.9,112.7 L334.9,111.8 L337.5,110.4 L339.3,109.0 L339.9,108.6 L340.1,109.0 L341.3,111.8 L341.9,113.3 L343.3,116.1 L344.9,118.9 L346.8,121.7 L348.6,118.9 L350.5,116.1 L352.5,113.3 L353.8,111.6 L356.9,113.3 L360.0,114.7 L360.7,115.1 L367.7,115.5 L374.6,116.4 L377.6,120.3 L379.9,123.2 L381.6,125.1 L384.4,124.6 L388.5,123.8 L393.6,121.7 L395.5,120.7 L398.2,124.6 L402.4,131.0 L404.0,133.0 L406.1,135.9 L407.9,138.7 L409.4,141.3 L411.1,138.7 L412.7,135.9 L414.1,133.0 L416.3,128.1 L417.6,130.2 L418.4,131.6 L419.4,133.0 L420.4,134.5 L421.6,135.9 L423.3,137.6M282.1,20.0 L281.7,28.5 L281.5,29.9 L281.0,31.3 L280.1,32.7 L278.9,34.1 L277.3,35.5 L274.2,37.2M264.9,32.0 L264.3,31.3 L263.4,30.4 L262.2,29.9 L259.9,28.5 L258.2,27.1 L256.4,25.0 L254.7,24.2 L252.1,22.8 L250.5,21.4 L249.5,20.0M303.3,20.0 L302.6,28.5 L302.1,29.9 L301.4,32.7 L300.9,34.1 L300.3,35.5 L298.4,39.8 L298.1,40.1 L296.9,39.8 L294.9,39.3M288.0,30.8 L287.6,28.5 L287.1,20.0M407.1,20.0 L408.0,24.2 L409.1,28.5 L409.3,29.9 L409.4,32.7 L408.6,34.1 L407.7,35.5 L407.0,37.0 L404.2,41.2 L403.2,42.6 L402.4,43.7 L395.5,44.3 L389.4,42.6 L388.5,42.3 L381.6,42.2 L380.9,42.6 L377.9,44.0 L375.5,45.4 L374.6,45.9 L367.7,45.4 L360.7,44.6 L359.6,44.0 L358.8,43.7M348.0,38.8 L346.8,38.5 L341.5,39.8 L339.9,40.6 L339.2,41.2 L336.2,42.6 L333.4,44.0 L332.9,44.2 L328.5,46.8 L326.3,48.3 L325.9,48.5 L325.8,48.3 L324.1,45.4 L321.7,41.2 L319.4,37.0 L319.0,35.8 L318.6,35.5 L317.3,34.1 L315.7,32.7 L313.6,31.3 L312.0,29.9 L311.2,24.2 L310.4,20.0M423.3,38.5 L422.9,38.4 L418.7,37.0 L416.3,36.4 L415.3,35.5 L413.1,34.1 L409.5,32.7 L409.7,31.3 L409.8,29.9 L410.3,28.5 L411.0,27.1 L411.4,25.7 L411.7,24.2 L411.9,22.8 L412.1,21.4 L412.2,20.0M221.1,51.1 L221.6,50.8 L222.0,51.1 L222.9,52.5 L224.0,53.9 L222.7,55.3 L221.6,56.7 L220.8,55.3 L219.9,53.9 L220.3,52.5ZM80.3,52.5 L82.6,51.1 L84.2,52.5 L86.0,53.9 L84.0,55.3 L82.6,56.7 L80.5,55.3 L77.9,53.9ZM248.4,150.0 L248.2,145.8 L248.0,144.3 L247.7,142.9 L247.2,141.5 L246.7,138.7 L246.4,137.3 L246.8,134.5 L246.8,133.0 L247.6,128.8 L248.1,126.0 L248.8,123.2 L249.5,120.6 L250.3,118.9 L250.9,117.5 L253.1,111.8 L254.1,109.0M261.2,110.4 L263.0,113.3 L263.4,114.0 L264.7,117.5 L265.3,118.9 L266.0,120.3 L266.8,121.7 L267.7,123.2 L268.8,124.6 L270.0,126.0 L270.3,126.4 L271.3,127.4 L272.8,128.8 L274.9,130.2 L277.3,131.4 L279.3,141.5 L279.6,145.8 L280.0,150.0M291.2,150.0 L292.2,148.6 L293.8,147.2 L295.4,145.8 L296.8,144.3 L298.1,142.9 L298.5,144.3 L299.0,145.8 L299.4,147.2 L299.9,148.6 L300.4,150.0M313.0,150.0 L314.6,145.8 L316.0,141.5 L316.8,138.7 L317.6,135.9 L319.0,130.0 L325.5,121.7 L325.9,121.3 L326.2,121.7 L327.7,124.6 L329.3,127.4 L331.0,130.2 L332.9,133.0 L337.3,135.9 L339.9,137.6 L340.9,138.7 L342.5,140.1 L344.4,141.5 L346.8,142.9 L348.0,141.5 L349.0,140.1 L350.0,138.7 L350.6,137.6M357.7,135.9 L359.1,137.3 L360.7,138.7 L362.3,137.3 L363.8,135.9 L365.1,134.5 L366.2,133.0 L367.3,131.6 L367.7,131.3 L368.2,131.6 L369.7,133.0 L371.5,134.5 L374.0,135.9 L374.6,136.3 L376.2,138.7 L377.4,140.1 L379.0,141.5 L381.1,142.9 L381.6,143.4 L383.5,142.9 L388.5,141.9 L393.7,140.1 L395.5,139.4 L396.7,141.5 L397.7,142.9 L398.7,144.3 L400.0,145.8 L401.4,147.2 L402.4,148.3 L402.6,148.6 L402.9,150.0M277.8,20.0 L277.7,21.4 L277.7,22.8 L277.6,24.2 L277.6,25.7 L277.6,27.1 L277.5,28.5 L277.3,29.9 L277.3,30.0 L276.8,29.9 L275.7,28.5 L275.3,27.1 L275.0,25.7 L274.7,24.2 L274.3,22.8 L273.9,21.4 L273.5,20.0M335.2,20.0 L334.7,21.4 L334.3,22.8 L333.7,25.7 L333.3,28.5 L332.9,32.7 L331.7,34.1 L329.6,36.1M324.1,35.5 L323.5,34.1 L322.8,27.1 L322.2,22.8 L321.8,20.0M376.2,20.0 L376.8,27.1 L376.6,28.5 L375.7,31.3 L375.2,32.7 L374.6,34.1 L373.0,34.8M363.7,31.8 L363.5,31.3 L362.8,20.0M394.4,24.2 L395.5,23.6 L397.0,24.2 L399.3,25.7 L400.5,27.1 L401.2,28.5 L401.6,29.9 L401.0,31.3 L400.2,32.7 L399.6,33.4M391.6,32.7 L391.5,31.3 L391.4,28.5 L392.0,27.1 L392.9,25.7 L394.4,24.2M255.9,133.0 L256.4,131.9 L256.9,133.0 L257.5,134.5 L258.0,135.9 L258.4,137.3 L258.7,138.7 L258.2,140.1 L257.7,141.5 L256.9,142.9 L256.4,143.8 L256.0,142.9 L255.4,141.5 L254.8,140.1 L254.3,138.7 L254.6,137.3 L254.9,135.9 L255.3,134.5ZM323.6,150.0 L324.3,148.6 L325.0,147.2 L325.8,145.8 L325.9,145.5 L326.1,145.8 L326.9,147.2 L327.6,148.6 L328.3,150.0" fill="none" stroke="#0a0a0a" stroke-width="0.85" stroke-linejoin="round"/><ellipse cx="206.8" cy="78.0" rx="0.5" ry="3.2" fill="#0a0a0a"/><ellipse cx="241.4" cy="98.7" rx="0.7" ry="0.9" fill="#0a0a0a"/><ellipse cx="252.0" cy="74.0" rx="0.8" ry="1.0" fill="#0a0a0a"/><ellipse cx="151.1" cy="122.2" rx="0.7" ry="0.9" fill="#0a0a0a"/><ellipse cx="158.2" cy="149.0" rx="0.7" ry="1.0" fill="#0a0a0a"/><ellipse cx="81.5" cy="71.1" rx="0.6" ry="0.7" fill="#0a0a0a"/><ellipse cx="408.7" cy="77.1" rx="0.7" ry="1.0" fill="#0a0a0a"/><ellipse cx="422.6" cy="75.2" rx="0.5" ry="2.2" fill="#0a0a0a"/><ellipse cx="235.2" cy="54.2" rx="0.8" ry="0.8" fill="#0a0a0a"/><ellipse cx="346.7" cy="100.0" rx="0.7" ry="0.7" fill="#0a0a0a"/><text transform="translate(117.7,31.7) rotate(0)" y="2.5" text-anchor="middle" font-size="7.11" fill="#111">0.5</text><text transform="translate(118.0,37.5) rotate(-18)" y="2.5" text-anchor="middle" font-size="7.11" fill="#111">0.0</text><text transform="translate(109.4,50.2) rotate(7)" y="2.5" text-anchor="middle" font-size="7.11" fill="#111">1.0</text><text transform="translate(145.1,33.0) rotate(-50)" y="2.5" text-anchor="middle" font-size="7.11" fill="#111">0.5</text><text transform="translate(159.0,30.5) rotate(20)" y="2.5" text-anchor="middle" font-size="7.11" fill="#111">0.0</text><text transform="translate(141.6,47.3) rotate(-67)" y="2.5" text-anchor="middle" font-size="7.11" fill="#111">0.5</text><text transform="translate(117.3,78.6) rotate(21)" y="2.5" text-anchor="middle" font-size="7.11" fill="#111">0.0</text><text transform="translate(92.0,81.6) rotate(75)" y="2.5" text-anchor="middle" font-size="7.11" fill="#111">0.5</text><text transform="translate(133.0,82.4) rotate(-55)" y="2.5" text-anchor="middle" font-size="7.11" fill="#111">0.0</text><text transform="translate(88.0,105.3) rotate(-50)" y="2.5" text-anchor="middle" font-size="7.11" fill="#111">0.0</text><text transform="translate(110.4,123.3) rotate(42)" y="2.5" text-anchor="middle" font-size="7.11" fill="#111">0.0</text><text transform="translate(129.3,133.8) rotate(-38)" y="2.5" text-anchor="middle" font-size="7.11" fill="#111">0.5</text><text transform="translate(95.8,146.1) rotate(6)" y="2.5" text-anchor="middle" font-size="7.11" fill="#111">0.0</text><text transform="translate(236.4,28.6) rotate(5)" y="2.5" text-anchor="middle" font-size="7.11" fill="#111">−0.5</text><text transform="translate(235.3,34.8) rotate(-6)" y="2.5" text-anchor="middle" font-size="7.11" fill="#111">0.0</text><text transform="translate(217.7,38.4) rotate(5)" y="2.5" text-anchor="middle" font-size="7.11" fill="#111">0.5</text><text transform="translate(235.1,61.2) rotate(12)" y="2.5" text-anchor="middle" font-size="7.11" fill="#111">1.0</text><text transform="translate(246.1,70.7) rotate(15)" y="2.5" text-anchor="middle" font-size="7.11" fill="#111">0.0</text><text transform="translate(268.4,36.4) rotate(54)" y="2.5" text-anchor="middle" font-size="7.11" fill="#111">1.5</text><text transform="translate(290.0,36.1) rotate(65)" y="2.5" text-anchor="middle" font-size="7.11" fill="#111">1.5</text><text transform="translate(326.7,41.0) rotate(-60)" y="2.5" text-anchor="middle" font-size="7.11" fill="#111">2.0</text><text transform="translate(353.5,41.0) rotate(-30)" y="2.5" text-anchor="middle" font-size="7.11" fill="#111">1.5</text><text transform="translate(367.3,36.7) rotate(-35)" y="2.5" text-anchor="middle" font-size="7.11" fill="#111">2.0</text><text transform="translate(344.7,47.7) rotate(-29)" y="2.5" text-anchor="middle" font-size="7.11" fill="#111">1.0</text><text transform="translate(359.2,59.8) rotate(-40)" y="2.5" text-anchor="middle" font-size="7.11" fill="#111">0.5</text><text transform="translate(395.0,37.3) rotate(0)" y="2.5" text-anchor="middle" font-size="7.11" fill="#111">2.0</text><text transform="translate(274.0,87.1) rotate(45)" y="2.5" text-anchor="middle" font-size="7.11" fill="#111">0.0</text><text transform="translate(283.7,85.6) rotate(34)" y="2.5" text-anchor="middle" font-size="7.11" fill="#111">−0.5</text><text transform="translate(304.6,89.5) rotate(0)" y="2.5" text-anchor="middle" font-size="7.11" fill="#111">−0.5</text><text transform="translate(332.9,81.6) rotate(37)" y="2.5" text-anchor="middle" font-size="7.11" fill="#111">0.0</text><text transform="translate(354.1,86.7) rotate(-8)" y="2.5" text-anchor="middle" font-size="7.11" fill="#111">0.0</text><text transform="translate(381.6,92.1) rotate(66)" y="2.5" text-anchor="middle" font-size="7.11" fill="#111">0.0</text><text transform="translate(207.7,116.1) rotate(39)" y="2.5" text-anchor="middle" font-size="7.11" fill="#111">0.5</text><text transform="translate(221.9,148.2) rotate(-11)" y="2.5" text-anchor="middle" font-size="7.11" fill="#111">0.0</text><text transform="translate(230.3,141.0) rotate(32)" y="2.5" text-anchor="middle" font-size="7.11" fill="#111">0.5</text><text transform="translate(314.6,120.9) rotate(-72)" y="2.5" text-anchor="middle" font-size="7.11" fill="#111">1.0</text><text transform="translate(353.2,132.5) rotate(-67)" y="2.5" text-anchor="middle" font-size="7.11" fill="#111">1.5</text><text transform="translate(258.4,105.3) rotate(64)" y="2.5" text-anchor="middle" font-size="7.11" fill="#111">1.5</text></g>
<rect x="75.6" y="20.0" width="347.7" height="130.0" fill="none" stroke="#7d7d7d" stroke-width="0.8"/>
<line x1="73.6" x2="75.6" y1="20.0" y2="20.0" stroke="#555" stroke-width="0.6"/>
<text x="71.0" y="24.1" text-anchor="end" fill="#1c1c1c" stroke="#1c1c1c" stroke-width="0.22" font-size="11.82" >6</text>
<line x1="73.6" x2="75.6" y1="37.0" y2="37.0" stroke="#555" stroke-width="0.6"/>
<text x="71.0" y="41.1" text-anchor="end" fill="#1c1c1c" stroke="#1c1c1c" stroke-width="0.22" font-size="11.82" >9</text>
<line x1="73.6" x2="75.6" y1="53.9" y2="53.9" stroke="#555" stroke-width="0.6"/>
<text x="71.0" y="58.0" text-anchor="end" fill="#1c1c1c" stroke="#1c1c1c" stroke-width="0.22" font-size="11.82" textLength="14.0" lengthAdjust="spacingAndGlyphs">12</text>
<line x1="73.6" x2="75.6" y1="70.9" y2="70.9" stroke="#555" stroke-width="0.6"/>
<text x="71.0" y="75.0" text-anchor="end" fill="#1c1c1c" stroke="#1c1c1c" stroke-width="0.22" font-size="11.82" textLength="14.0" lengthAdjust="spacingAndGlyphs">15</text>
<line x1="73.6" x2="75.6" y1="87.8" y2="87.8" stroke="#555" stroke-width="0.6"/>
<text x="71.0" y="91.9" text-anchor="end" fill="#1c1c1c" stroke="#1c1c1c" stroke-width="0.22" font-size="11.82" textLength="14.0" lengthAdjust="spacingAndGlyphs">18</text>
<line x1="73.6" x2="75.6" y1="104.8" y2="104.8" stroke="#555" stroke-width="0.6"/>
<text x="71.0" y="108.9" text-anchor="end" fill="#1c1c1c" stroke="#1c1c1c" stroke-width="0.22" font-size="11.82" textLength="14.0" lengthAdjust="spacingAndGlyphs">21</text>
<line x1="73.6" x2="75.6" y1="121.7" y2="121.7" stroke="#555" stroke-width="0.6"/>
<text x="71.0" y="125.8" text-anchor="end" fill="#1c1c1c" stroke="#1c1c1c" stroke-width="0.22" font-size="11.82" >0</text>
<line x1="73.6" x2="75.6" y1="138.7" y2="138.7" stroke="#555" stroke-width="0.6"/>
<text x="71.0" y="142.8" text-anchor="end" fill="#1c1c1c" stroke="#1c1c1c" stroke-width="0.22" font-size="11.82" >3</text>
<text transform="translate(54.3,86.0) rotate(-90)" text-anchor="middle" fill="#1c1c1c" stroke="#1c1c1c" stroke-width="0.22" font-size="12.36" textLength="27.7" lengthAdjust="spacingAndGlyphs">Hour</text>
<text x="80" y="14.6" class="sf" font-size="12.6" fill="#1c1c1c">(a)</text>
<line x1="131.2" x2="131.2" y1="150.0" y2="152.0" stroke="#555" stroke-width="0.6"/>
<text x="131.2" y="162.0" text-anchor="middle" fill="#1c1c1c" stroke="#1c1c1c" stroke-width="0.22" font-size="11.82" textLength="28.0" lengthAdjust="spacingAndGlyphs">1980</text>
<line x1="200.8" x2="200.8" y1="150.0" y2="152.0" stroke="#555" stroke-width="0.6"/>
<text x="200.8" y="162.0" text-anchor="middle" fill="#1c1c1c" stroke="#1c1c1c" stroke-width="0.22" font-size="11.82" textLength="28.0" lengthAdjust="spacingAndGlyphs">1990</text>
<line x1="270.3" x2="270.3" y1="150.0" y2="152.0" stroke="#555" stroke-width="0.6"/>
<text x="270.3" y="162.0" text-anchor="middle" fill="#1c1c1c" stroke="#1c1c1c" stroke-width="0.22" font-size="11.82" textLength="28.0" lengthAdjust="spacingAndGlyphs">2000</text>
<line x1="339.9" x2="339.9" y1="150.0" y2="152.0" stroke="#555" stroke-width="0.6"/>
<text x="339.9" y="162.0" text-anchor="middle" fill="#1c1c1c" stroke="#1c1c1c" stroke-width="0.22" font-size="11.82" textLength="28.0" lengthAdjust="spacingAndGlyphs">2010</text>
<line x1="409.4" x2="409.4" y1="150.0" y2="152.0" stroke="#555" stroke-width="0.6"/>
<text x="409.4" y="162.0" text-anchor="middle" fill="#1c1c1c" stroke="#1c1c1c" stroke-width="0.22" font-size="11.82" textLength="28.0" lengthAdjust="spacingAndGlyphs">2020</text>
<rect x="444.2" y="134.15" width="7.3" height="16.55" fill="#006837"/>
<rect x="444.2" y="117.90" width="7.3" height="16.55" fill="#5db75f"/>
<rect x="444.2" y="101.65" width="7.3" height="16.55" fill="#cdea83"/>
<rect x="444.2" y="85.40" width="7.3" height="16.55" fill="#fee99a"/>
<rect x="444.2" y="69.15" width="7.3" height="16.55" fill="#fdae61"/>
<rect x="444.2" y="52.90" width="7.3" height="16.55" fill="#f46d43"/>
<rect x="444.2" y="36.65" width="7.3" height="16.55" fill="#d73027"/>
<rect x="444.2" y="20.40" width="7.3" height="16.55" fill="#a50026"/>
<rect x="444.2" y="20.4" width="7.3" height="130.0" fill="none" stroke="#8c8c8c" stroke-width="0.5"/>
<line x1="451.5" x2="453.5" y1="150.4" y2="150.4" stroke="#555" stroke-width="0.6"/>
<text x="454.7" y="154.5" text-anchor="start" fill="#1c1c1c" stroke="#1c1c1c" stroke-width="0.22" font-size="11.82" textLength="26.7" lengthAdjust="spacingAndGlyphs">−1.5</text>
<line x1="451.5" x2="453.5" y1="134.2" y2="134.2" stroke="#555" stroke-width="0.6"/>
<text x="454.7" y="138.2" text-anchor="start" fill="#1c1c1c" stroke="#1c1c1c" stroke-width="0.22" font-size="11.82" textLength="26.7" lengthAdjust="spacingAndGlyphs">−1.0</text>
<line x1="451.5" x2="453.5" y1="117.9" y2="117.9" stroke="#555" stroke-width="0.6"/>
<text x="454.7" y="122.0" text-anchor="start" fill="#1c1c1c" stroke="#1c1c1c" stroke-width="0.22" font-size="11.82" textLength="26.7" lengthAdjust="spacingAndGlyphs">−0.5</text>
<line x1="451.5" x2="453.5" y1="101.7" y2="101.7" stroke="#555" stroke-width="0.6"/>
<text x="454.7" y="105.8" text-anchor="start" fill="#1c1c1c" stroke="#1c1c1c" stroke-width="0.22" font-size="11.82" textLength="17.5" lengthAdjust="spacingAndGlyphs">0.0</text>
<line x1="451.5" x2="453.5" y1="85.4" y2="85.4" stroke="#555" stroke-width="0.6"/>
<text x="454.7" y="89.5" text-anchor="start" fill="#1c1c1c" stroke="#1c1c1c" stroke-width="0.22" font-size="11.82" textLength="17.5" lengthAdjust="spacingAndGlyphs">0.5</text>
<line x1="451.5" x2="453.5" y1="69.2" y2="69.2" stroke="#555" stroke-width="0.6"/>
<text x="454.7" y="73.2" text-anchor="start" fill="#1c1c1c" stroke="#1c1c1c" stroke-width="0.22" font-size="11.82" textLength="17.5" lengthAdjust="spacingAndGlyphs">1.0</text>
<line x1="451.5" x2="453.5" y1="52.9" y2="52.9" stroke="#555" stroke-width="0.6"/>
<text x="454.7" y="57.0" text-anchor="start" fill="#1c1c1c" stroke="#1c1c1c" stroke-width="0.22" font-size="11.82" textLength="17.5" lengthAdjust="spacingAndGlyphs">1.5</text>
<line x1="451.5" x2="453.5" y1="36.7" y2="36.7" stroke="#555" stroke-width="0.6"/>
<text x="454.7" y="40.8" text-anchor="start" fill="#1c1c1c" stroke="#1c1c1c" stroke-width="0.22" font-size="11.82" textLength="17.5" lengthAdjust="spacingAndGlyphs">2.0</text>
<line x1="451.5" x2="453.5" y1="20.4" y2="20.4" stroke="#555" stroke-width="0.6"/>
<text x="454.7" y="24.5" text-anchor="start" fill="#1c1c1c" stroke="#1c1c1c" stroke-width="0.22" font-size="11.82" textLength="17.5" lengthAdjust="spacingAndGlyphs">2.5</text>
<text transform="translate(493.2,85.3) rotate(-90)" text-anchor="middle" fill="#1c1c1c" stroke="#1c1c1c" stroke-width="0.22" font-size="11.82" textLength="38.3" lengthAdjust="spacingAndGlyphs">ΔT(u-r)</text>
<rect x="75.6" y="169.6" width="347.7" height="117.7" fill="#fff" stroke="#7d7d7d" stroke-width="0.8"/>
<line x1="131.2" x2="131.2" y1="169.6" y2="287.3" stroke="#bdbdbd" stroke-width="0.6" stroke-dasharray="1,1"/>
<line x1="200.8" x2="200.8" y1="169.6" y2="287.3" stroke="#bdbdbd" stroke-width="0.6" stroke-dasharray="1,1"/>
<line x1="270.3" x2="270.3" y1="169.6" y2="287.3" stroke="#bdbdbd" stroke-width="0.6" stroke-dasharray="1,1"/>
<line x1="339.9" x2="339.9" y1="169.6" y2="287.3" stroke="#bdbdbd" stroke-width="0.6" stroke-dasharray="1,1"/>
<line x1="409.4" x2="409.4" y1="169.6" y2="287.3" stroke="#bdbdbd" stroke-width="0.6" stroke-dasharray="1,1"/>
<clipPath id="cb"><rect x="75.1" y="169.6" width="348.7" height="117.7"/></clipPath>
<g clip-path="url(#cb)"><polyline points="75.6,178.9 82.6,178.9 89.5,175.1 96.5,183.4 103.4,186.5 110.4,191.7 117.3,199.9 124.3,183.0 131.2,194.3 138.2,222.5 145.1,234.5 152.1,224.0 159.0,189.0 166.0,207.1 173.0,220.3 179.9,226.7 186.9,229.8 193.8,219.6 200.8,225.2 207.7,229.9 214.7,195.5 221.6,190.5 228.6,204.4 235.5,215.8 242.5,209.8 249.5,272.2 256.4,235.9 263.4,247.2 270.3,262.6 277.3,282.9 284.2,271.3 291.2,260.8 298.1,269.3 305.1,266.7 312.0,242.1 319.0,254.4 325.9,258.6 332.9,262.0 339.9,246.3 346.8,262.6 353.8,263.5 360.7,249.9 367.7,257.1 374.6,250.8 381.6,254.8 388.5,251.7 395.5,251.7 402.4,258.9 409.4,253.9 416.3,257.5 423.3,268.0" fill="none" stroke="#228b22" stroke-width="1.05" stroke-linejoin="round"/><circle cx="75.6" cy="178.9" r="1.75" fill="#228b22"/><circle cx="82.6" cy="178.9" r="1.75" fill="#228b22"/><circle cx="89.5" cy="175.1" r="1.75" fill="#228b22"/><circle cx="96.5" cy="183.4" r="1.75" fill="#228b22"/><circle cx="103.4" cy="186.5" r="1.75" fill="#228b22"/><circle cx="110.4" cy="191.7" r="1.75" fill="#228b22"/><circle cx="117.3" cy="199.9" r="1.75" fill="#228b22"/><circle cx="124.3" cy="183.0" r="1.75" fill="#228b22"/><circle cx="131.2" cy="194.3" r="1.75" fill="#228b22"/><circle cx="138.2" cy="222.5" r="1.75" fill="#228b22"/><circle cx="145.1" cy="234.5" r="1.75" fill="#228b22"/><circle cx="152.1" cy="224.0" r="1.75" fill="#228b22"/><circle cx="159.0" cy="189.0" r="1.75" fill="#228b22"/><circle cx="166.0" cy="207.1" r="1.75" fill="#228b22"/><circle cx="173.0" cy="220.3" r="1.75" fill="#228b22"/><circle cx="179.9" cy="226.7" r="1.75" fill="#228b22"/><circle cx="186.9" cy="229.8" r="1.75" fill="#228b22"/><circle cx="193.8" cy="219.6" r="1.75" fill="#228b22"/><circle cx="200.8" cy="225.2" r="1.75" fill="#228b22"/><circle cx="207.7" cy="229.9" r="1.75" fill="#228b22"/><circle cx="214.7" cy="195.5" r="1.75" fill="#228b22"/><circle cx="221.6" cy="190.5" r="1.75" fill="#228b22"/><circle cx="228.6" cy="204.4" r="1.75" fill="#228b22"/><circle cx="235.5" cy="215.8" r="1.75" fill="#228b22"/><circle cx="242.5" cy="209.8" r="1.75" fill="#228b22"/><circle cx="249.5" cy="272.2" r="1.75" fill="#228b22"/><circle cx="256.4" cy="235.9" r="1.75" fill="#228b22"/><circle cx="263.4" cy="247.2" r="1.75" fill="#228b22"/><circle cx="270.3" cy="262.6" r="1.75" fill="#228b22"/><circle cx="277.3" cy="282.9" r="1.75" fill="#228b22"/><circle cx="284.2" cy="271.3" r="1.75" fill="#228b22"/><circle cx="291.2" cy="260.8" r="1.75" fill="#228b22"/><circle cx="298.1" cy="269.3" r="1.75" fill="#228b22"/><circle cx="305.1" cy="266.7" r="1.75" fill="#228b22"/><circle cx="312.0" cy="242.1" r="1.75" fill="#228b22"/><circle cx="319.0" cy="254.4" r="1.75" fill="#228b22"/><circle cx="325.9" cy="258.6" r="1.75" fill="#228b22"/><circle cx="332.9" cy="262.0" r="1.75" fill="#228b22"/><circle cx="339.9" cy="246.3" r="1.75" fill="#228b22"/><circle cx="346.8" cy="262.6" r="1.75" fill="#228b22"/><circle cx="353.8" cy="263.5" r="1.75" fill="#228b22"/><circle cx="360.7" cy="249.9" r="1.75" fill="#228b22"/><circle cx="367.7" cy="257.1" r="1.75" fill="#228b22"/><circle cx="374.6" cy="250.8" r="1.75" fill="#228b22"/><circle cx="381.6" cy="254.8" r="1.75" fill="#228b22"/><circle cx="388.5" cy="251.7" r="1.75" fill="#228b22"/><circle cx="395.5" cy="251.7" r="1.75" fill="#228b22"/><circle cx="402.4" cy="258.9" r="1.75" fill="#228b22"/><circle cx="409.4" cy="253.9" r="1.75" fill="#228b22"/><circle cx="416.3" cy="257.5" r="1.75" fill="#228b22"/><circle cx="423.3" cy="268.0" r="1.75" fill="#228b22"/></g>
<g clip-path="url(#cb)"><polyline points="75.6,263.5 82.6,271.6 89.5,264.0 96.5,273.4 103.4,272.2 110.4,282.9 117.3,274.9 124.3,264.7 131.2,267.6 138.2,262.6 145.1,265.8 152.1,267.5 159.0,274.0 166.0,268.6 173.0,272.2 179.9,262.8 186.9,266.7 193.8,259.3 200.8,245.9 207.7,264.4 214.7,241.0 221.6,255.3 228.6,261.7 235.5,239.4 242.5,245.7 249.5,213.1 256.4,175.1 263.4,195.3 270.3,208.9 277.3,214.9 284.2,266.2 291.2,230.5 298.1,225.4 305.1,256.6 312.0,231.5 319.0,206.2 325.9,187.2 332.9,204.0 339.9,205.9 346.8,224.9 353.8,210.4 360.7,214.0 367.7,199.0 374.6,203.1 381.6,221.3 388.5,221.3 395.5,210.0 402.4,221.8 409.4,249.9 416.3,228.5 423.3,239.9" fill="none" stroke="#ff1493" stroke-width="1.05" stroke-linejoin="round"/><circle cx="75.6" cy="263.5" r="1.75" fill="#ff1493"/><circle cx="82.6" cy="271.6" r="1.75" fill="#ff1493"/><circle cx="89.5" cy="264.0" r="1.75" fill="#ff1493"/><circle cx="96.5" cy="273.4" r="1.75" fill="#ff1493"/><circle cx="103.4" cy="272.2" r="1.75" fill="#ff1493"/><circle cx="110.4" cy="282.9" r="1.75" fill="#ff1493"/><circle cx="117.3" cy="274.9" r="1.75" fill="#ff1493"/><circle cx="124.3" cy="264.7" r="1.75" fill="#ff1493"/><circle cx="131.2" cy="267.6" r="1.75" fill="#ff1493"/><circle cx="138.2" cy="262.6" r="1.75" fill="#ff1493"/><circle cx="145.1" cy="265.8" r="1.75" fill="#ff1493"/><circle cx="152.1" cy="267.5" r="1.75" fill="#ff1493"/><circle cx="159.0" cy="274.0" r="1.75" fill="#ff1493"/><circle cx="166.0" cy="268.6" r="1.75" fill="#ff1493"/><circle cx="173.0" cy="272.2" r="1.75" fill="#ff1493"/><circle cx="179.9" cy="262.8" r="1.75" fill="#ff1493"/><circle cx="186.9" cy="266.7" r="1.75" fill="#ff1493"/><circle cx="193.8" cy="259.3" r="1.75" fill="#ff1493"/><circle cx="200.8" cy="245.9" r="1.75" fill="#ff1493"/><circle cx="207.7" cy="264.4" r="1.75" fill="#ff1493"/><circle cx="214.7" cy="241.0" r="1.75" fill="#ff1493"/><circle cx="221.6" cy="255.3" r="1.75" fill="#ff1493"/><circle cx="228.6" cy="261.7" r="1.75" fill="#ff1493"/><circle cx="235.5" cy="239.4" r="1.75" fill="#ff1493"/><circle cx="242.5" cy="245.7" r="1.75" fill="#ff1493"/><circle cx="249.5" cy="213.1" r="1.75" fill="#ff1493"/><circle cx="256.4" cy="175.1" r="1.75" fill="#ff1493"/><circle cx="263.4" cy="195.3" r="1.75" fill="#ff1493"/><circle cx="270.3" cy="208.9" r="1.75" fill="#ff1493"/><circle cx="277.3" cy="214.9" r="1.75" fill="#ff1493"/><circle cx="284.2" cy="266.2" r="1.75" fill="#ff1493"/><circle cx="291.2" cy="230.5" r="1.75" fill="#ff1493"/><circle cx="298.1" cy="225.4" r="1.75" fill="#ff1493"/><circle cx="305.1" cy="256.6" r="1.75" fill="#ff1493"/><circle cx="312.0" cy="231.5" r="1.75" fill="#ff1493"/><circle cx="319.0" cy="206.2" r="1.75" fill="#ff1493"/><circle cx="325.9" cy="187.2" r="1.75" fill="#ff1493"/><circle cx="332.9" cy="204.0" r="1.75" fill="#ff1493"/><circle cx="339.9" cy="205.9" r="1.75" fill="#ff1493"/><circle cx="346.8" cy="224.9" r="1.75" fill="#ff1493"/><circle cx="353.8" cy="210.4" r="1.75" fill="#ff1493"/><circle cx="360.7" cy="214.0" r="1.75" fill="#ff1493"/><circle cx="367.7" cy="199.0" r="1.75" fill="#ff1493"/><circle cx="374.6" cy="203.1" r="1.75" fill="#ff1493"/><circle cx="381.6" cy="221.3" r="1.75" fill="#ff1493"/><circle cx="388.5" cy="221.3" r="1.75" fill="#ff1493"/><circle cx="395.5" cy="210.0" r="1.75" fill="#ff1493"/><circle cx="402.4" cy="221.8" r="1.75" fill="#ff1493"/><circle cx="409.4" cy="249.9" r="1.75" fill="#ff1493"/><circle cx="416.3" cy="228.5" r="1.75" fill="#ff1493"/><circle cx="423.3" cy="239.9" r="1.75" fill="#ff1493"/></g>
<line x1="75.6" x2="75.6" y1="169.6" y2="287.3" stroke="#228b22" stroke-width="0.9"/>
<line x1="423.3" x2="423.3" y1="169.6" y2="287.3" stroke="#ff1493" stroke-width="0.9"/>
<line x1="73.6" x2="75.6" y1="188.0" y2="188.0" stroke="#228b22" stroke-width="0.6"/>
<text x="71.0" y="192.1" text-anchor="end" fill="#228b22" stroke="#228b22" stroke-width="0.22" font-size="11.82" textLength="17.5" lengthAdjust="spacingAndGlyphs">0.0</text>
<line x1="73.6" x2="75.6" y1="206.8" y2="206.8" stroke="#228b22" stroke-width="0.6"/>
<text x="71.0" y="210.9" text-anchor="end" fill="#228b22" stroke="#228b22" stroke-width="0.22" font-size="11.82" textLength="26.7" lengthAdjust="spacingAndGlyphs">−0.5</text>
<line x1="73.6" x2="75.6" y1="225.6" y2="225.6" stroke="#228b22" stroke-width="0.6"/>
<text x="71.0" y="229.7" text-anchor="end" fill="#228b22" stroke="#228b22" stroke-width="0.22" font-size="11.82" textLength="26.7" lengthAdjust="spacingAndGlyphs">−1.0</text>
<line x1="73.6" x2="75.6" y1="244.4" y2="244.4" stroke="#228b22" stroke-width="0.6"/>
<text x="71.0" y="248.5" text-anchor="end" fill="#228b22" stroke="#228b22" stroke-width="0.22" font-size="11.82" textLength="26.7" lengthAdjust="spacingAndGlyphs">−1.5</text>
<line x1="73.6" x2="75.6" y1="263.2" y2="263.2" stroke="#228b22" stroke-width="0.6"/>
<text x="71.0" y="267.3" text-anchor="end" fill="#228b22" stroke="#228b22" stroke-width="0.22" font-size="11.82" textLength="26.7" lengthAdjust="spacingAndGlyphs">−2.0</text>
<line x1="73.6" x2="75.6" y1="282.0" y2="282.0" stroke="#228b22" stroke-width="0.6"/>
<text x="71.0" y="286.1" text-anchor="end" fill="#228b22" stroke="#228b22" stroke-width="0.22" font-size="11.82" textLength="26.7" lengthAdjust="spacingAndGlyphs">−2.5</text>
<line x1="423.3" x2="425.3" y1="283.4" y2="283.4" stroke="#ff1493" stroke-width="0.6"/>
<text x="428.6" y="287.5" text-anchor="start" fill="#ff1493" stroke="#ff1493" stroke-width="0.22" font-size="11.82" textLength="17.5" lengthAdjust="spacingAndGlyphs">0.0</text>
<line x1="423.3" x2="425.3" y1="247.0" y2="247.0" stroke="#ff1493" stroke-width="0.6"/>
<text x="428.6" y="251.1" text-anchor="start" fill="#ff1493" stroke="#ff1493" stroke-width="0.22" font-size="11.82" textLength="17.5" lengthAdjust="spacingAndGlyphs">0.5</text>
<line x1="423.3" x2="425.3" y1="210.6" y2="210.6" stroke="#ff1493" stroke-width="0.6"/>
<text x="428.6" y="214.7" text-anchor="start" fill="#ff1493" stroke="#ff1493" stroke-width="0.22" font-size="11.82" textLength="17.5" lengthAdjust="spacingAndGlyphs">1.0</text>
<line x1="423.3" x2="425.3" y1="174.2" y2="174.2" stroke="#ff1493" stroke-width="0.6"/>
<text x="428.6" y="178.3" text-anchor="start" fill="#ff1493" stroke="#ff1493" stroke-width="0.22" font-size="11.82" textLength="17.5" lengthAdjust="spacingAndGlyphs">1.5</text>
<text transform="translate(37.3,229.2) rotate(-90)" text-anchor="middle" fill="#228b22" stroke="#228b22" stroke-width="0.22" font-size="12.90" textLength="59.3" lengthAdjust="spacingAndGlyphs">ΔDTR(u-r)</text>
<g transform="translate(460.7,252.6) rotate(-90)" fill="#ff1493" stroke="#ff1493" stroke-width="0.22" font-size="12.90"><text x="0" y="0">Δ</text><text x="8.6" y="0" font-style="italic">T</text><line x1="9.6" x2="16.2" y1="-10.3" y2="-10.3" stroke="#ff1493" stroke-width="0.8"/><text x="20.6" y="0" textLength="26.2" lengthAdjust="spacingAndGlyphs">(u-r)</text></g>
<text x="80" y="165" class="sf" font-size="12.6" fill="#1c1c1c">(b)</text>
<line x1="131.2" x2="131.2" y1="287.3" y2="289.3" stroke="#555" stroke-width="0.6"/>
<text x="131.6" y="301.2" text-anchor="middle" fill="#1c1c1c" stroke="#1c1c1c" stroke-width="0.22" font-size="12.90" textLength="30.5" lengthAdjust="spacingAndGlyphs">1980</text>
<line x1="200.8" x2="200.8" y1="287.3" y2="289.3" stroke="#555" stroke-width="0.6"/>
<text x="201.2" y="301.2" text-anchor="middle" fill="#1c1c1c" stroke="#1c1c1c" stroke-width="0.22" font-size="12.90" textLength="30.5" lengthAdjust="spacingAndGlyphs">1990</text>
<line x1="270.3" x2="270.3" y1="287.3" y2="289.3" stroke="#555" stroke-width="0.6"/>
<text x="270.7" y="301.2" text-anchor="middle" fill="#1c1c1c" stroke="#1c1c1c" stroke-width="0.22" font-size="12.90" textLength="30.5" lengthAdjust="spacingAndGlyphs">2000</text>
<line x1="339.9" x2="339.9" y1="287.3" y2="289.3" stroke="#555" stroke-width="0.6"/>
<text x="340.3" y="301.2" text-anchor="middle" fill="#1c1c1c" stroke="#1c1c1c" stroke-width="0.22" font-size="12.90" textLength="30.5" lengthAdjust="spacingAndGlyphs">2010</text>
<line x1="409.4" x2="409.4" y1="287.3" y2="289.3" stroke="#555" stroke-width="0.6"/>
<text x="409.8" y="301.2" text-anchor="middle" fill="#1c1c1c" stroke="#1c1c1c" stroke-width="0.22" font-size="12.90" textLength="30.5" lengthAdjust="spacingAndGlyphs">2020</text>
<rect x="75.3" y="308.8" width="349.1" height="66.2" fill="#fff" stroke="#7d7d7d" stroke-width="0.8"/>
<line x1="131.2" x2="131.2" y1="308.8" y2="375.0" stroke="#bdbdbd" stroke-width="0.6" stroke-dasharray="1,1"/>
<line x1="131.2" x2="131.2" y1="375.0" y2="377.0" stroke="#555" stroke-width="0.6"/>
<text x="131.2" y="388.5" text-anchor="middle" fill="#1c1c1c" stroke="#1c1c1c" stroke-width="0.22" font-size="12.90" textLength="30.5" lengthAdjust="spacingAndGlyphs">1980</text>
<line x1="201.0" x2="201.0" y1="308.8" y2="375.0" stroke="#bdbdbd" stroke-width="0.6" stroke-dasharray="1,1"/>
<line x1="201.0" x2="201.0" y1="375.0" y2="377.0" stroke="#555" stroke-width="0.6"/>
<text x="201.0" y="388.5" text-anchor="middle" fill="#1c1c1c" stroke="#1c1c1c" stroke-width="0.22" font-size="12.90" textLength="30.5" lengthAdjust="spacingAndGlyphs">1990</text>
<line x1="270.8" x2="270.8" y1="308.8" y2="375.0" stroke="#bdbdbd" stroke-width="0.6" stroke-dasharray="1,1"/>
<line x1="270.8" x2="270.8" y1="375.0" y2="377.0" stroke="#555" stroke-width="0.6"/>
<text x="270.8" y="388.5" text-anchor="middle" fill="#1c1c1c" stroke="#1c1c1c" stroke-width="0.22" font-size="12.90" textLength="30.5" lengthAdjust="spacingAndGlyphs">2000</text>
<line x1="340.6" x2="340.6" y1="308.8" y2="375.0" stroke="#bdbdbd" stroke-width="0.6" stroke-dasharray="1,1"/>
<line x1="340.6" x2="340.6" y1="375.0" y2="377.0" stroke="#555" stroke-width="0.6"/>
<text x="340.6" y="388.5" text-anchor="middle" fill="#1c1c1c" stroke="#1c1c1c" stroke-width="0.22" font-size="12.90" textLength="30.5" lengthAdjust="spacingAndGlyphs">2010</text>
<line x1="410.4" x2="410.4" y1="308.8" y2="375.0" stroke="#bdbdbd" stroke-width="0.6" stroke-dasharray="1,1"/>
<line x1="410.4" x2="410.4" y1="375.0" y2="377.0" stroke="#555" stroke-width="0.6"/>
<text x="410.4" y="388.5" text-anchor="middle" fill="#1c1c1c" stroke="#1c1c1c" stroke-width="0.22" font-size="12.90" textLength="30.5" lengthAdjust="spacingAndGlyphs">2020</text>
<polyline points="75.3,367.0 96.2,359.8 131.2,346.2 166.1,337.0 201.0,326.2 235.9,322.2 270.8,317.0 305.7,314.6 340.6,314.2 375.5,311.4 410.4,311.8" fill="none" stroke="#111" stroke-width="1.05"/>
<circle cx="96.2" cy="359.8" r="1.75" fill="#111"/>
<circle cx="131.2" cy="346.2" r="1.75" fill="#111"/>
<circle cx="166.1" cy="337.0" r="1.75" fill="#111"/>
<circle cx="201.0" cy="326.2" r="1.75" fill="#111"/>
<circle cx="235.9" cy="322.2" r="1.75" fill="#111"/>
<circle cx="270.8" cy="317.0" r="1.75" fill="#111"/>
<circle cx="305.7" cy="314.6" r="1.75" fill="#111"/>
<circle cx="340.6" cy="314.2" r="1.75" fill="#111"/>
<circle cx="375.5" cy="311.4" r="1.75" fill="#111"/>
<circle cx="410.4" cy="311.8" r="1.75" fill="#111"/>
<line x1="73.3" x2="75.3" y1="313.0" y2="313.0" stroke="#555" stroke-width="0.6"/>
<text x="72.6" y="312.2" text-anchor="end" fill="#1c1c1c" stroke="#1c1c1c" stroke-width="0.22" font-size="9.03">5</text>
<text x="66.7" y="316.6" text-anchor="end" fill="#1c1c1c" stroke="#1c1c1c" stroke-width="0.22" font-size="12.90" textLength="15.3" lengthAdjust="spacingAndGlyphs">10</text>
<text x="49.4" y="317.9" text-anchor="end" fill="#1c1c1c" font-size="17">×</text>
<text x="36.1" y="316.6" text-anchor="end" fill="#1c1c1c" stroke="#1c1c1c" stroke-width="0.22" font-size="12.90" textLength="15.3" lengthAdjust="spacingAndGlyphs">10</text>
<line x1="73.3" x2="75.3" y1="328.0" y2="328.0" stroke="#555" stroke-width="0.6"/>
<text x="72.6" y="327.2" text-anchor="end" fill="#1c1c1c" stroke="#1c1c1c" stroke-width="0.22" font-size="9.03">5</text>
<text x="66.7" y="331.6" text-anchor="end" fill="#1c1c1c" stroke="#1c1c1c" stroke-width="0.22" font-size="12.90" textLength="15.3" lengthAdjust="spacingAndGlyphs">10</text>
<text x="49.4" y="332.9" text-anchor="end" fill="#1c1c1c" font-size="17">×</text>
<text x="36.1" y="331.6" text-anchor="end" fill="#1c1c1c" stroke="#1c1c1c" stroke-width="0.22" font-size="12.90" >5</text>
<line x1="73.3" x2="75.3" y1="363.0" y2="363.0" stroke="#555" stroke-width="0.6"/>
<text x="72.6" y="362.2" text-anchor="end" fill="#1c1c1c" stroke="#1c1c1c" stroke-width="0.22" font-size="9.03">5</text>
<text x="66.7" y="366.6" text-anchor="end" fill="#1c1c1c" stroke="#1c1c1c" stroke-width="0.22" font-size="12.90" textLength="15.3" lengthAdjust="spacingAndGlyphs">10</text>
<text x="49.4" y="367.9" text-anchor="end" fill="#1c1c1c" font-size="17">×</text>
<text x="36.1" y="366.6" text-anchor="end" fill="#1c1c1c" stroke="#1c1c1c" stroke-width="0.22" font-size="12.90" >1</text>
<line x1="74.1" x2="75.3" y1="374.1" y2="374.1" stroke="#666" stroke-width="0.5"/>
<line x1="74.1" x2="75.3" y1="370.7" y2="370.7" stroke="#666" stroke-width="0.5"/>
<line x1="74.1" x2="75.3" y1="367.8" y2="367.8" stroke="#666" stroke-width="0.5"/>
<line x1="74.1" x2="75.3" y1="365.3" y2="365.3" stroke="#666" stroke-width="0.5"/>
<line x1="74.1" x2="75.3" y1="347.9" y2="347.9" stroke="#666" stroke-width="0.5"/>
<line x1="74.1" x2="75.3" y1="339.1" y2="339.1" stroke="#666" stroke-width="0.5"/>
<line x1="74.1" x2="75.3" y1="332.9" y2="332.9" stroke="#666" stroke-width="0.5"/>
<line x1="74.1" x2="75.3" y1="324.1" y2="324.1" stroke="#666" stroke-width="0.5"/>
<line x1="74.1" x2="75.3" y1="320.7" y2="320.7" stroke="#666" stroke-width="0.5"/>
<line x1="74.1" x2="75.3" y1="317.8" y2="317.8" stroke="#666" stroke-width="0.5"/>
<line x1="74.1" x2="75.3" y1="315.3" y2="315.3" stroke="#666" stroke-width="0.5"/>
<text transform="translate(14.7,341.8) rotate(-90)" text-anchor="middle" fill="#1c1c1c" stroke="#1c1c1c" stroke-width="0.22" font-size="12.90" textLength="56.2" lengthAdjust="spacingAndGlyphs">ΔPop(u-r)</text>
<text x="250.0" y="403.0" text-anchor="middle" fill="#1c1c1c" stroke="#1c1c1c" stroke-width="0.22" font-size="12.90" textLength="25.4" lengthAdjust="spacingAndGlyphs">Year</text>
<text x="79.6" y="302.4" class="sf" font-size="12.6" fill="#1c1c1c">(c)</text>
</svg>
</body></html>
